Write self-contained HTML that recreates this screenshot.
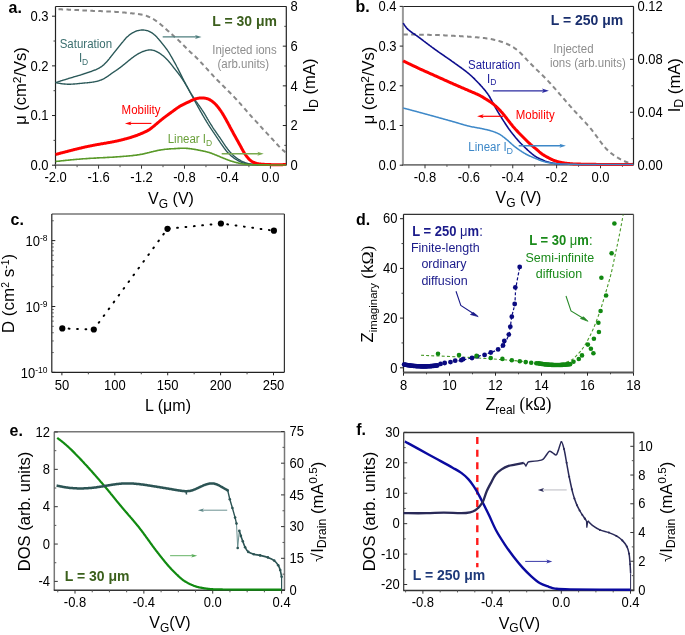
<!DOCTYPE html>
<html><head><meta charset="utf-8"><style>
html,body{margin:0;padding:0;background:#fff;}
svg{display:block;font-family:"Liberation Sans", sans-serif;will-change:transform;}
</style></head><body>
<svg width="685" height="635" viewBox="0 0 685 635">
<rect width="685" height="635" fill="#fff"/>
<line x1="55.50" y1="6.50" x2="286.30" y2="6.50" stroke="#222" stroke-width="1.2"/>
<line x1="55.50" y1="6.50" x2="55.50" y2="165.20" stroke="#222" stroke-width="1.2"/>
<line x1="286.30" y1="6.50" x2="286.30" y2="165.20" stroke="#222" stroke-width="1.2"/>
<line x1="54.50" y1="165.20" x2="286.30" y2="165.20" stroke="#777" stroke-width="1.8"/>
<line x1="55.60" y1="165.20" x2="55.60" y2="168.70" stroke="#333" stroke-width="1"/>
<line x1="98.56" y1="165.20" x2="98.56" y2="168.70" stroke="#333" stroke-width="1"/>
<line x1="141.52" y1="165.20" x2="141.52" y2="168.70" stroke="#333" stroke-width="1"/>
<line x1="184.48" y1="165.20" x2="184.48" y2="168.70" stroke="#333" stroke-width="1"/>
<line x1="227.44" y1="165.20" x2="227.44" y2="168.70" stroke="#333" stroke-width="1"/>
<line x1="270.40" y1="165.20" x2="270.40" y2="168.70" stroke="#333" stroke-width="1"/>
<line x1="77.08" y1="165.20" x2="77.08" y2="167.20" stroke="#555" stroke-width="1"/>
<line x1="120.04" y1="165.20" x2="120.04" y2="167.20" stroke="#555" stroke-width="1"/>
<line x1="163.00" y1="165.20" x2="163.00" y2="167.20" stroke="#555" stroke-width="1"/>
<line x1="205.96" y1="165.20" x2="205.96" y2="167.20" stroke="#555" stroke-width="1"/>
<line x1="248.92" y1="165.20" x2="248.92" y2="167.20" stroke="#555" stroke-width="1"/>
<line x1="55.50" y1="165.20" x2="52.00" y2="165.20" stroke="#222" stroke-width="1"/>
<line x1="55.50" y1="115.53" x2="52.00" y2="115.53" stroke="#222" stroke-width="1"/>
<line x1="55.50" y1="65.87" x2="52.00" y2="65.87" stroke="#222" stroke-width="1"/>
<line x1="55.50" y1="16.20" x2="52.00" y2="16.20" stroke="#222" stroke-width="1"/>
<line x1="55.50" y1="140.37" x2="53.50" y2="140.37" stroke="#444" stroke-width="1"/>
<line x1="55.50" y1="90.70" x2="53.50" y2="90.70" stroke="#444" stroke-width="1"/>
<line x1="55.50" y1="41.03" x2="53.50" y2="41.03" stroke="#444" stroke-width="1"/>
<line x1="286.30" y1="165.20" x2="282.80" y2="165.20" stroke="#222" stroke-width="1"/>
<line x1="286.30" y1="125.52" x2="282.80" y2="125.52" stroke="#222" stroke-width="1"/>
<line x1="286.30" y1="85.85" x2="282.80" y2="85.85" stroke="#222" stroke-width="1"/>
<line x1="286.30" y1="46.17" x2="282.80" y2="46.17" stroke="#222" stroke-width="1"/>
<line x1="286.30" y1="6.50" x2="282.80" y2="6.50" stroke="#222" stroke-width="1"/>
<line x1="286.30" y1="145.36" x2="284.30" y2="145.36" stroke="#444" stroke-width="1"/>
<line x1="286.30" y1="105.69" x2="284.30" y2="105.69" stroke="#444" stroke-width="1"/>
<line x1="286.30" y1="66.01" x2="284.30" y2="66.01" stroke="#444" stroke-width="1"/>
<line x1="286.30" y1="26.34" x2="284.30" y2="26.34" stroke="#444" stroke-width="1"/>
<text x="0" y="0" font-size="13" text-anchor="middle" fill="#000" transform="translate(55.60 181.50) scale(1 1.08)">-2.0</text>
<text x="0" y="0" font-size="13" text-anchor="middle" fill="#000" transform="translate(98.56 181.50) scale(1 1.08)">-1.6</text>
<text x="0" y="0" font-size="13" text-anchor="middle" fill="#000" transform="translate(141.52 181.50) scale(1 1.08)">-1.2</text>
<text x="0" y="0" font-size="13" text-anchor="middle" fill="#000" transform="translate(184.48 181.50) scale(1 1.08)">-0.8</text>
<text x="0" y="0" font-size="13" text-anchor="middle" fill="#000" transform="translate(227.44 181.50) scale(1 1.08)">-0.4</text>
<text x="0" y="0" font-size="13" text-anchor="middle" fill="#000" transform="translate(270.40 181.50) scale(1 1.08)">0.0</text>
<text x="0" y="0" font-size="13" text-anchor="end" fill="#000" transform="translate(48.50 169.90) scale(1 1.08)">0.0</text>
<text x="0" y="0" font-size="13" text-anchor="end" fill="#000" transform="translate(48.50 120.23) scale(1 1.08)">0.1</text>
<text x="0" y="0" font-size="13" text-anchor="end" fill="#000" transform="translate(48.50 70.57) scale(1 1.08)">0.2</text>
<text x="0" y="0" font-size="13" text-anchor="end" fill="#000" transform="translate(48.50 20.90) scale(1 1.08)">0.3</text>
<text x="0" y="0" font-size="13" text-anchor="start" fill="#000" transform="translate(290.50 169.90) scale(1 1.08)">0</text>
<text x="0" y="0" font-size="13" text-anchor="start" fill="#000" transform="translate(290.50 130.22) scale(1 1.08)">2</text>
<text x="0" y="0" font-size="13" text-anchor="start" fill="#000" transform="translate(290.50 90.55) scale(1 1.08)">4</text>
<text x="0" y="0" font-size="13" text-anchor="start" fill="#000" transform="translate(290.50 50.88) scale(1 1.08)">6</text>
<text x="0" y="0" font-size="13" text-anchor="start" fill="#000" transform="translate(290.50 11.20) scale(1 1.08)">8</text>
<text x="0" y="0" font-size="16" text-anchor="middle" fill="#000" transform="translate(171.00 203.50) scale(1 1.08)">V<tspan font-size="12" dy="4">G</tspan><tspan dy="-4"> (V)</tspan></text>
<text x="0" y="0" font-size="16" text-anchor="middle" fill="#000" transform="translate(26.20 86.00) rotate(-90) scale(1.035 1)">μ (cm<tspan font-size="11.5" dy="-5.5">2</tspan><tspan dy="5.5">/Vs)</tspan></text>
<text x="0" y="0" font-size="16" text-anchor="middle" fill="#000" transform="translate(315.00 85.60) rotate(-90) scale(1.035 1)">I<tspan font-size="12" dy="3">D</tspan><tspan dy="-3"> (mA)</tspan></text>
<text x="0" y="0" font-size="16" text-anchor="start" fill="#000" font-weight="bold" transform="translate(8.60 12.60) scale(1 1.08)">a.</text>
<line x1="402.90" y1="6.50" x2="633.50" y2="6.50" stroke="#222" stroke-width="1.2"/>
<line x1="633.50" y1="6.50" x2="633.50" y2="164.80" stroke="#222" stroke-width="1.2"/>
<line x1="402.90" y1="6.50" x2="402.90" y2="164.80" stroke="#999" stroke-width="2"/>
<line x1="401.90" y1="164.80" x2="633.50" y2="164.80" stroke="#777" stroke-width="1.8"/>
<line x1="425.00" y1="164.80" x2="425.00" y2="168.30" stroke="#333" stroke-width="1"/>
<line x1="468.88" y1="164.80" x2="468.88" y2="168.30" stroke="#333" stroke-width="1"/>
<line x1="512.75" y1="164.80" x2="512.75" y2="168.30" stroke="#333" stroke-width="1"/>
<line x1="556.62" y1="164.80" x2="556.62" y2="168.30" stroke="#333" stroke-width="1"/>
<line x1="600.50" y1="164.80" x2="600.50" y2="168.30" stroke="#333" stroke-width="1"/>
<line x1="446.94" y1="164.80" x2="446.94" y2="166.80" stroke="#555" stroke-width="1"/>
<line x1="490.81" y1="164.80" x2="490.81" y2="166.80" stroke="#555" stroke-width="1"/>
<line x1="534.69" y1="164.80" x2="534.69" y2="166.80" stroke="#555" stroke-width="1"/>
<line x1="578.56" y1="164.80" x2="578.56" y2="166.80" stroke="#555" stroke-width="1"/>
<line x1="622.44" y1="164.80" x2="622.44" y2="166.80" stroke="#555" stroke-width="1"/>
<line x1="402.90" y1="165.20" x2="399.70" y2="165.20" stroke="#222" stroke-width="1"/>
<line x1="402.90" y1="125.50" x2="399.70" y2="125.50" stroke="#222" stroke-width="1"/>
<line x1="402.90" y1="85.80" x2="399.70" y2="85.80" stroke="#222" stroke-width="1"/>
<line x1="402.90" y1="46.10" x2="399.70" y2="46.10" stroke="#222" stroke-width="1"/>
<line x1="402.90" y1="6.40" x2="399.70" y2="6.40" stroke="#222" stroke-width="1"/>
<line x1="633.50" y1="165.20" x2="630.00" y2="165.20" stroke="#222" stroke-width="1"/>
<line x1="633.50" y1="112.27" x2="630.00" y2="112.27" stroke="#222" stroke-width="1"/>
<line x1="633.50" y1="59.33" x2="630.00" y2="59.33" stroke="#222" stroke-width="1"/>
<line x1="633.50" y1="6.40" x2="630.00" y2="6.40" stroke="#222" stroke-width="1"/>
<line x1="633.50" y1="138.73" x2="631.50" y2="138.73" stroke="#444" stroke-width="1"/>
<line x1="633.50" y1="85.80" x2="631.50" y2="85.80" stroke="#444" stroke-width="1"/>
<line x1="633.50" y1="32.87" x2="631.50" y2="32.87" stroke="#444" stroke-width="1"/>
<text x="0" y="0" font-size="13" text-anchor="middle" fill="#000" transform="translate(425.00 181.70) scale(1 1.08)">-0.8</text>
<text x="0" y="0" font-size="13" text-anchor="middle" fill="#000" transform="translate(468.88 181.70) scale(1 1.08)">-0.6</text>
<text x="0" y="0" font-size="13" text-anchor="middle" fill="#000" transform="translate(512.75 181.70) scale(1 1.08)">-0.4</text>
<text x="0" y="0" font-size="13" text-anchor="middle" fill="#000" transform="translate(556.62 181.70) scale(1 1.08)">-0.2</text>
<text x="0" y="0" font-size="13" text-anchor="middle" fill="#000" transform="translate(600.50 181.70) scale(1 1.08)">0.0</text>
<text x="0" y="0" font-size="13" text-anchor="end" fill="#000" transform="translate(396.50 169.90) scale(1 1.08)">0.0</text>
<text x="0" y="0" font-size="13" text-anchor="end" fill="#000" transform="translate(396.50 130.20) scale(1 1.08)">0.1</text>
<text x="0" y="0" font-size="13" text-anchor="end" fill="#000" transform="translate(396.50 90.50) scale(1 1.08)">0.2</text>
<text x="0" y="0" font-size="13" text-anchor="end" fill="#000" transform="translate(396.50 50.80) scale(1 1.08)">0.3</text>
<text x="0" y="0" font-size="13" text-anchor="end" fill="#000" transform="translate(396.50 11.10) scale(1 1.08)">0.4</text>
<text x="0" y="0" font-size="13" text-anchor="start" fill="#000" transform="translate(637.50 169.90) scale(1 1.08)">0.00</text>
<text x="0" y="0" font-size="13" text-anchor="start" fill="#000" transform="translate(637.50 116.97) scale(1 1.08)">0.04</text>
<text x="0" y="0" font-size="13" text-anchor="start" fill="#000" transform="translate(637.50 64.03) scale(1 1.08)">0.08</text>
<text x="0" y="0" font-size="13" text-anchor="start" fill="#000" transform="translate(637.50 11.10) scale(1 1.08)">0.12</text>
<text x="0" y="0" font-size="16" text-anchor="middle" fill="#000" transform="translate(518.50 203.00) scale(1 1.08)">V<tspan font-size="12" dy="4">G</tspan><tspan dy="-4"> (V)</tspan></text>
<text x="0" y="0" font-size="16" text-anchor="middle" fill="#000" transform="translate(374.20 85.50) rotate(-90) scale(1.035 1)">μ (cm<tspan font-size="11.5" dy="-5.5">2</tspan><tspan dy="5.5">/Vs)</tspan></text>
<text x="0" y="0" font-size="16" text-anchor="middle" fill="#000" transform="translate(680.00 85.30) rotate(-90) scale(1.035 1)">I<tspan font-size="12" dy="3">D</tspan><tspan dy="-3"> (mA)</tspan></text>
<text x="0" y="0" font-size="16" text-anchor="start" fill="#000" font-weight="bold" transform="translate(355.50 12.00) scale(1 1.08)">b.</text>
<line x1="51.80" y1="214.00" x2="284.40" y2="214.00" stroke="#333" stroke-width="1.2"/>
<line x1="51.80" y1="214.00" x2="51.80" y2="372.30" stroke="#222" stroke-width="1.2"/>
<line x1="284.40" y1="214.00" x2="284.40" y2="372.30" stroke="#333" stroke-width="1.2"/>
<line x1="51.80" y1="372.30" x2="284.40" y2="372.30" stroke="#222" stroke-width="1.2"/>
<line x1="61.90" y1="372.30" x2="61.90" y2="375.30" stroke="#222" stroke-width="1"/>
<line x1="114.80" y1="372.30" x2="114.80" y2="375.30" stroke="#222" stroke-width="1"/>
<line x1="167.70" y1="372.30" x2="167.70" y2="375.30" stroke="#222" stroke-width="1"/>
<line x1="220.60" y1="372.30" x2="220.60" y2="375.30" stroke="#222" stroke-width="1"/>
<line x1="273.50" y1="372.30" x2="273.50" y2="375.30" stroke="#222" stroke-width="1"/>
<line x1="88.35" y1="372.30" x2="88.35" y2="374.30" stroke="#444" stroke-width="1"/>
<line x1="141.25" y1="372.30" x2="141.25" y2="374.30" stroke="#444" stroke-width="1"/>
<line x1="194.15" y1="372.30" x2="194.15" y2="374.30" stroke="#444" stroke-width="1"/>
<line x1="247.05" y1="372.30" x2="247.05" y2="374.30" stroke="#444" stroke-width="1"/>
<line x1="51.80" y1="372.40" x2="55.30" y2="372.40" stroke="#222" stroke-width="1"/>
<line x1="51.80" y1="306.50" x2="55.30" y2="306.50" stroke="#222" stroke-width="1"/>
<line x1="51.80" y1="240.60" x2="55.30" y2="240.60" stroke="#222" stroke-width="1"/>
<line x1="51.80" y1="352.56" x2="53.80" y2="352.56" stroke="#444" stroke-width="0.8"/>
<line x1="51.80" y1="340.96" x2="53.80" y2="340.96" stroke="#444" stroke-width="0.8"/>
<line x1="51.80" y1="332.72" x2="53.80" y2="332.72" stroke="#444" stroke-width="0.8"/>
<line x1="51.80" y1="326.34" x2="53.80" y2="326.34" stroke="#444" stroke-width="0.8"/>
<line x1="51.80" y1="321.12" x2="53.80" y2="321.12" stroke="#444" stroke-width="0.8"/>
<line x1="51.80" y1="316.71" x2="53.80" y2="316.71" stroke="#444" stroke-width="0.8"/>
<line x1="51.80" y1="312.89" x2="53.80" y2="312.89" stroke="#444" stroke-width="0.8"/>
<line x1="51.80" y1="309.52" x2="53.80" y2="309.52" stroke="#444" stroke-width="0.8"/>
<line x1="51.80" y1="286.66" x2="53.80" y2="286.66" stroke="#444" stroke-width="0.8"/>
<line x1="51.80" y1="275.06" x2="53.80" y2="275.06" stroke="#444" stroke-width="0.8"/>
<line x1="51.80" y1="266.82" x2="53.80" y2="266.82" stroke="#444" stroke-width="0.8"/>
<line x1="51.80" y1="260.44" x2="53.80" y2="260.44" stroke="#444" stroke-width="0.8"/>
<line x1="51.80" y1="255.22" x2="53.80" y2="255.22" stroke="#444" stroke-width="0.8"/>
<line x1="51.80" y1="250.81" x2="53.80" y2="250.81" stroke="#444" stroke-width="0.8"/>
<line x1="51.80" y1="246.99" x2="53.80" y2="246.99" stroke="#444" stroke-width="0.8"/>
<line x1="51.80" y1="243.62" x2="53.80" y2="243.62" stroke="#444" stroke-width="0.8"/>
<line x1="51.80" y1="220.76" x2="53.80" y2="220.76" stroke="#444" stroke-width="0.8"/>
<text x="0" y="0" font-size="13" text-anchor="middle" fill="#000" transform="translate(61.90 389.90) scale(1 1.08)">50</text>
<text x="0" y="0" font-size="13" text-anchor="middle" fill="#000" transform="translate(114.80 389.90) scale(1 1.08)">100</text>
<text x="0" y="0" font-size="13" text-anchor="middle" fill="#000" transform="translate(167.70 389.90) scale(1 1.08)">150</text>
<text x="0" y="0" font-size="13" text-anchor="middle" fill="#000" transform="translate(220.60 389.90) scale(1 1.08)">200</text>
<text x="0" y="0" font-size="13" text-anchor="middle" fill="#000" transform="translate(273.50 389.90) scale(1 1.08)">250</text>
<text x="0" y="0" font-size="13" text-anchor="end" fill="#000" transform="translate(47.50 246.10) scale(1 1.08)">10<tspan font-size="8.5" dy="-4.8">-8</tspan></text>
<text x="0" y="0" font-size="13" text-anchor="end" fill="#000" transform="translate(47.50 312.00) scale(1 1.08)">10<tspan font-size="8.5" dy="-4.8">-9</tspan></text>
<text x="0" y="0" font-size="13" text-anchor="end" fill="#000" transform="translate(47.50 377.80) scale(1 1.08)">10<tspan font-size="8.5" dy="-4.8">-10</tspan></text>
<text x="0" y="0" font-size="16" text-anchor="middle" fill="#000" transform="translate(168.00 410.70) scale(1 1.08)">L (μm)</text>
<text x="0" y="0" font-size="16.5" text-anchor="middle" fill="#000" transform="translate(13.80 293.60) rotate(-90) scale(1.035 1)">D (cm<tspan font-size="10" dy="-5">2</tspan><tspan dy="5"> s</tspan><tspan font-size="10" dy="-5">-1</tspan><tspan dy="5">)</tspan></text>
<text x="0" y="0" font-size="16" text-anchor="start" fill="#000" font-weight="bold" transform="translate(10.50 225.10) scale(1 1.08)">c.</text>
<path d="M62.3,328.4 L93.8,329.5 L167.5,228.8 L220.9,223.5 L273.9,230.7" fill="none" stroke="#000" stroke-width="2.0" stroke-dasharray="0.8 7.6" stroke-linecap="round" stroke-dashoffset="2"/>
<circle cx="62.30" cy="328.40" r="3.1" fill="#000"/>
<circle cx="93.80" cy="329.50" r="3.1" fill="#000"/>
<circle cx="167.50" cy="228.80" r="3.1" fill="#000"/>
<circle cx="220.90" cy="223.50" r="3.1" fill="#000"/>
<circle cx="273.90" cy="230.70" r="3.1" fill="#000"/>
<line x1="403.50" y1="214.30" x2="633.50" y2="214.30" stroke="#333" stroke-width="1.2"/>
<line x1="403.50" y1="214.30" x2="403.50" y2="372.50" stroke="#222" stroke-width="1.2"/>
<line x1="633.50" y1="214.30" x2="633.50" y2="372.50" stroke="#555" stroke-width="1.2"/>
<line x1="403.50" y1="372.50" x2="633.50" y2="372.50" stroke="#555" stroke-width="1.8"/>
<line x1="403.50" y1="372.50" x2="403.50" y2="375.70" stroke="#222" stroke-width="1"/>
<line x1="449.50" y1="372.50" x2="449.50" y2="375.70" stroke="#222" stroke-width="1"/>
<line x1="495.50" y1="372.50" x2="495.50" y2="375.70" stroke="#222" stroke-width="1"/>
<line x1="541.50" y1="372.50" x2="541.50" y2="375.70" stroke="#222" stroke-width="1"/>
<line x1="587.50" y1="372.50" x2="587.50" y2="375.70" stroke="#222" stroke-width="1"/>
<line x1="633.50" y1="372.50" x2="633.50" y2="375.70" stroke="#222" stroke-width="1"/>
<line x1="426.50" y1="372.50" x2="426.50" y2="374.30" stroke="#444" stroke-width="1"/>
<line x1="472.50" y1="372.50" x2="472.50" y2="374.30" stroke="#444" stroke-width="1"/>
<line x1="518.50" y1="372.50" x2="518.50" y2="374.30" stroke="#444" stroke-width="1"/>
<line x1="564.50" y1="372.50" x2="564.50" y2="374.30" stroke="#444" stroke-width="1"/>
<line x1="610.50" y1="372.50" x2="610.50" y2="374.30" stroke="#444" stroke-width="1"/>
<line x1="403.50" y1="367.80" x2="400.00" y2="367.80" stroke="#222" stroke-width="1"/>
<line x1="403.50" y1="318.10" x2="400.00" y2="318.10" stroke="#222" stroke-width="1"/>
<line x1="403.50" y1="268.40" x2="400.00" y2="268.40" stroke="#222" stroke-width="1"/>
<line x1="403.50" y1="218.70" x2="400.00" y2="218.70" stroke="#222" stroke-width="1"/>
<line x1="403.50" y1="342.95" x2="401.50" y2="342.95" stroke="#444" stroke-width="1"/>
<line x1="403.50" y1="293.25" x2="401.50" y2="293.25" stroke="#444" stroke-width="1"/>
<line x1="403.50" y1="243.55" x2="401.50" y2="243.55" stroke="#444" stroke-width="1"/>
<text x="0" y="0" font-size="13" text-anchor="middle" fill="#000" transform="translate(403.50 389.60) scale(1 1.08)">8</text>
<text x="0" y="0" font-size="13" text-anchor="middle" fill="#000" transform="translate(449.50 389.60) scale(1 1.08)">10</text>
<text x="0" y="0" font-size="13" text-anchor="middle" fill="#000" transform="translate(495.50 389.60) scale(1 1.08)">12</text>
<text x="0" y="0" font-size="13" text-anchor="middle" fill="#000" transform="translate(541.50 389.60) scale(1 1.08)">14</text>
<text x="0" y="0" font-size="13" text-anchor="middle" fill="#000" transform="translate(587.50 389.60) scale(1 1.08)">16</text>
<text x="0" y="0" font-size="13" text-anchor="middle" fill="#000" transform="translate(633.50 389.60) scale(1 1.08)">18</text>
<text x="0" y="0" font-size="13" text-anchor="end" fill="#000" transform="translate(397.50 372.50) scale(1 1.08)">0</text>
<text x="0" y="0" font-size="13" text-anchor="end" fill="#000" transform="translate(397.50 322.80) scale(1 1.08)">20</text>
<text x="0" y="0" font-size="13" text-anchor="end" fill="#000" transform="translate(397.50 273.10) scale(1 1.08)">40</text>
<text x="0" y="0" font-size="13" text-anchor="end" fill="#000" transform="translate(397.50 223.40) scale(1 1.08)">60</text>
<text x="0" y="0" font-size="16" text-anchor="middle" fill="#000" transform="translate(518.50 410.00) scale(1 1.08)">Z<tspan font-size="12" dy="3.5">real</tspan><tspan dy="-3.5" font-family="Liberation Serif" font-size="17"> (</tspan><tspan>k</tspan><tspan font-family="Liberation Serif" font-size="17">Ω)</tspan></text>
<text x="0" y="0" font-size="16" text-anchor="middle" fill="#000" transform="translate(373.10 294.00) rotate(-90) scale(1.035 1)">Z<tspan font-size="11" dy="4">imaginary</tspan><tspan dy="-4" font-family="Liberation Serif" font-size="17"> (</tspan><tspan>k</tspan><tspan font-family="Liberation Serif" font-size="17">Ω)</tspan></text>
<text x="0" y="0" font-size="16" text-anchor="start" fill="#000" font-weight="bold" transform="translate(356.00 225.30) scale(1 1.08)">d.</text>
<text x="0" y="0" font-size="13" text-anchor="start" fill="#1a1a8a" font-weight="bold" transform="translate(412.30 235.50) scale(1 1.08)">L = 250 <tspan font-weight="normal">μ</tspan>m<tspan font-weight="normal">:</tspan></text>
<text x="0" y="0" font-size="12.5" text-anchor="start" fill="#1a1a8a" transform="translate(410.90 252.10) scale(1 1.08)">Finite-length</text>
<text x="0" y="0" font-size="12.5" text-anchor="start" fill="#1a1a8a" transform="translate(421.40 268.40) scale(1 1.08)">ordinary</text>
<text x="0" y="0" font-size="12.5" text-anchor="start" fill="#1a1a8a" transform="translate(421.40 285.00) scale(1 1.08)">diffusion</text>
<text x="0" y="0" font-size="13" text-anchor="start" fill="#1a8a1a" font-weight="bold" transform="translate(529.30 244.90) scale(1 1.08)">L = 30 <tspan font-weight="normal">μ</tspan>m<tspan font-weight="normal">:</tspan></text>
<text x="0" y="0" font-size="12.5" text-anchor="start" fill="#1a8a1a" transform="translate(525.50 261.80) scale(1 1.08)">Semi-infinite</text>
<text x="0" y="0" font-size="12.5" text-anchor="start" fill="#1a8a1a" transform="translate(535.80 278.00) scale(1 1.08)">diffusion</text>
<line x1="54.30" y1="431.70" x2="284.50" y2="431.70" stroke="#777" stroke-width="1.5"/>
<line x1="54.30" y1="431.70" x2="54.30" y2="590.30" stroke="#777" stroke-width="1.5"/>
<line x1="284.50" y1="431.70" x2="284.50" y2="590.30" stroke="#777" stroke-width="1.5"/>
<line x1="53.80" y1="590.30" x2="285.00" y2="590.30" stroke="#333" stroke-width="1.5"/>
<line x1="75.00" y1="590.30" x2="75.00" y2="593.60" stroke="#333" stroke-width="1"/>
<line x1="143.87" y1="590.30" x2="143.87" y2="593.60" stroke="#333" stroke-width="1"/>
<line x1="212.73" y1="590.30" x2="212.73" y2="593.60" stroke="#333" stroke-width="1"/>
<line x1="281.60" y1="590.30" x2="281.60" y2="593.60" stroke="#333" stroke-width="1"/>
<line x1="57.78" y1="590.30" x2="57.78" y2="592.30" stroke="#555" stroke-width="1"/>
<line x1="92.22" y1="590.30" x2="92.22" y2="592.30" stroke="#555" stroke-width="1"/>
<line x1="109.43" y1="590.30" x2="109.43" y2="592.30" stroke="#555" stroke-width="1"/>
<line x1="126.65" y1="590.30" x2="126.65" y2="592.30" stroke="#555" stroke-width="1"/>
<line x1="161.08" y1="590.30" x2="161.08" y2="592.30" stroke="#555" stroke-width="1"/>
<line x1="178.30" y1="590.30" x2="178.30" y2="592.30" stroke="#555" stroke-width="1"/>
<line x1="195.52" y1="590.30" x2="195.52" y2="592.30" stroke="#555" stroke-width="1"/>
<line x1="229.95" y1="590.30" x2="229.95" y2="592.30" stroke="#555" stroke-width="1"/>
<line x1="247.17" y1="590.30" x2="247.17" y2="592.30" stroke="#555" stroke-width="1"/>
<line x1="264.38" y1="590.30" x2="264.38" y2="592.30" stroke="#555" stroke-width="1"/>
<line x1="54.30" y1="432.00" x2="57.80" y2="432.00" stroke="#333" stroke-width="1"/>
<line x1="54.30" y1="469.35" x2="57.80" y2="469.35" stroke="#333" stroke-width="1"/>
<line x1="54.30" y1="506.70" x2="57.80" y2="506.70" stroke="#333" stroke-width="1"/>
<line x1="54.30" y1="544.05" x2="57.80" y2="544.05" stroke="#333" stroke-width="1"/>
<line x1="54.30" y1="581.40" x2="57.80" y2="581.40" stroke="#333" stroke-width="1"/>
<line x1="54.30" y1="450.68" x2="56.30" y2="450.68" stroke="#555" stroke-width="1"/>
<line x1="54.30" y1="488.02" x2="56.30" y2="488.02" stroke="#555" stroke-width="1"/>
<line x1="54.30" y1="525.38" x2="56.30" y2="525.38" stroke="#555" stroke-width="1"/>
<line x1="54.30" y1="562.72" x2="56.30" y2="562.72" stroke="#555" stroke-width="1"/>
<line x1="284.50" y1="431.50" x2="281.00" y2="431.50" stroke="#333" stroke-width="1"/>
<line x1="284.50" y1="463.20" x2="281.00" y2="463.20" stroke="#333" stroke-width="1"/>
<line x1="284.50" y1="494.90" x2="281.00" y2="494.90" stroke="#333" stroke-width="1"/>
<line x1="284.50" y1="526.60" x2="281.00" y2="526.60" stroke="#333" stroke-width="1"/>
<line x1="284.50" y1="558.30" x2="281.00" y2="558.30" stroke="#333" stroke-width="1"/>
<line x1="284.50" y1="590.00" x2="281.00" y2="590.00" stroke="#333" stroke-width="1"/>
<line x1="284.50" y1="447.35" x2="282.50" y2="447.35" stroke="#555" stroke-width="1"/>
<line x1="284.50" y1="479.05" x2="282.50" y2="479.05" stroke="#555" stroke-width="1"/>
<line x1="284.50" y1="510.75" x2="282.50" y2="510.75" stroke="#555" stroke-width="1"/>
<line x1="284.50" y1="542.45" x2="282.50" y2="542.45" stroke="#555" stroke-width="1"/>
<line x1="284.50" y1="574.15" x2="282.50" y2="574.15" stroke="#555" stroke-width="1"/>
<text x="0" y="0" font-size="13" text-anchor="middle" fill="#000" transform="translate(75.00 606.70) scale(1 1.08)">-0.8</text>
<text x="0" y="0" font-size="13" text-anchor="middle" fill="#000" transform="translate(143.87 606.70) scale(1 1.08)">-0.4</text>
<text x="0" y="0" font-size="13" text-anchor="middle" fill="#000" transform="translate(212.73 606.70) scale(1 1.08)">0.0</text>
<text x="0" y="0" font-size="13" text-anchor="middle" fill="#000" transform="translate(281.60 606.70) scale(1 1.08)">0.4</text>
<text x="0" y="0" font-size="13" text-anchor="end" fill="#000" transform="translate(50.00 436.70) scale(1 1.08)">12</text>
<text x="0" y="0" font-size="13" text-anchor="end" fill="#000" transform="translate(50.00 474.05) scale(1 1.08)">8</text>
<text x="0" y="0" font-size="13" text-anchor="end" fill="#000" transform="translate(50.00 511.40) scale(1 1.08)">4</text>
<text x="0" y="0" font-size="13" text-anchor="end" fill="#000" transform="translate(50.00 548.75) scale(1 1.08)">0</text>
<text x="0" y="0" font-size="13" text-anchor="end" fill="#000" transform="translate(50.00 586.10) scale(1 1.08)">-4</text>
<text x="0" y="0" font-size="13" text-anchor="start" fill="#000" transform="translate(289.60 436.20) scale(1 1.08)">75</text>
<text x="0" y="0" font-size="13" text-anchor="start" fill="#000" transform="translate(289.60 467.90) scale(1 1.08)">60</text>
<text x="0" y="0" font-size="13" text-anchor="start" fill="#000" transform="translate(289.60 499.60) scale(1 1.08)">45</text>
<text x="0" y="0" font-size="13" text-anchor="start" fill="#000" transform="translate(289.60 531.30) scale(1 1.08)">30</text>
<text x="0" y="0" font-size="13" text-anchor="start" fill="#000" transform="translate(289.60 563.00) scale(1 1.08)">15</text>
<text x="0" y="0" font-size="13" text-anchor="start" fill="#000" transform="translate(289.60 594.70) scale(1 1.08)">0</text>
<text x="0" y="0" font-size="16" text-anchor="middle" fill="#000" transform="translate(170.00 628.40) scale(1 1.08)">V<tspan font-size="12" dy="3">G</tspan><tspan dy="-3">(V)</tspan></text>
<text x="0" y="0" font-size="16" text-anchor="middle" fill="#000" transform="translate(30.00 511.50) rotate(-90) scale(1.035 1)">DOS (arb. units)</text>
<text x="0" y="0" font-size="16" text-anchor="middle" fill="#000" transform="translate(322.80 511.80) rotate(-90) scale(1.035 1)">√I<tspan font-size="12" dy="3">Drain</tspan><tspan dy="-3"> (mA</tspan><tspan font-size="11.5" dy="-6">0.5</tspan><tspan dy="6">)</tspan></text>
<text x="0" y="0" font-size="16" text-anchor="start" fill="#000" font-weight="bold" transform="translate(9.60 435.70) scale(1 1.08)">e.</text>
<text x="0" y="0" font-size="14" text-anchor="start" fill="#3b601c" font-weight="bold" transform="translate(64.80 580.80) scale(1 1.08)">L = 30 μm</text>
<path d="M57.2,437.9 L57.7,438.3 L58.2,438.6 L58.7,439.0 L59.2,439.4 L59.7,439.8 L60.2,440.1 L60.7,440.5 L61.2,440.9 L61.7,441.3 L62.2,441.7 L62.7,442.1 L63.2,442.5 L63.7,442.9 L64.2,443.3 L64.7,443.8 L65.2,444.2 L65.7,444.6 L66.2,445.0 L66.7,445.5 L67.2,445.9 L67.7,446.4 L68.2,446.8 L68.7,447.3 L69.2,447.7 L69.7,448.2 L70.2,448.7 L70.7,449.2 L71.2,449.6 L71.7,450.1 L72.2,450.6 L72.7,451.1 L73.2,451.6 L73.7,452.1 L74.2,452.6 L74.7,453.1 L75.2,453.7 L75.7,454.2 L76.2,454.7 L76.7,455.2 L77.2,455.7 L77.7,456.3 L78.2,456.8 L78.7,457.3 L79.2,457.8 L79.7,458.3 L80.2,458.9 L80.7,459.4 L81.2,459.9 L81.7,460.4 L82.2,461.0 L82.7,461.5 L83.2,462.0 L83.7,462.6 L84.2,463.1 L84.7,463.7 L85.2,464.2 L85.7,464.7 L86.2,465.3 L86.7,465.8 L87.2,466.4 L87.7,466.9 L88.2,467.5 L88.7,468.0 L89.2,468.6 L89.7,469.1 L90.2,469.7 L90.7,470.3 L91.2,470.8 L91.7,471.4 L92.2,471.9 L92.7,472.5 L93.2,473.1 L93.7,473.6 L94.2,474.2 L94.7,474.8 L95.2,475.3 L95.7,475.9 L96.2,476.5 L96.7,477.0 L97.2,477.6 L97.7,478.2 L98.2,478.8 L98.7,479.3 L99.2,479.9 L99.7,480.5 L100.2,481.1 L100.7,481.7 L101.2,482.2 L101.7,482.8 L102.2,483.4 L102.7,484.0 L103.2,484.6 L103.7,485.2 L104.2,485.8 L104.7,486.4 L105.2,486.9 L105.7,487.5 L106.2,488.1 L106.7,488.7 L107.2,489.3 L107.7,489.9 L108.2,490.5 L108.7,491.1 L109.2,491.7 L109.7,492.3 L110.2,492.9 L110.7,493.6 L111.2,494.2 L111.7,494.8 L112.2,495.4 L112.7,496.0 L113.2,496.6 L113.7,497.3 L114.2,497.9 L114.7,498.5 L115.2,499.1 L115.7,499.7 L116.2,500.4 L116.7,501.0 L117.2,501.6 L117.7,502.2 L118.2,502.8 L118.7,503.4 L119.2,504.0 L119.7,504.6 L120.2,505.2 L120.7,505.8 L121.2,506.4 L121.7,507.0 L122.2,507.6 L122.7,508.2 L123.2,508.8 L123.7,509.4 L124.2,510.0 L124.7,510.5 L125.2,511.1 L125.7,511.7 L126.2,512.3 L126.7,512.9 L127.2,513.4 L127.7,514.0 L128.2,514.6 L128.7,515.2 L129.2,515.7 L129.7,516.3 L130.2,516.9 L130.7,517.5 L131.2,518.0 L131.7,518.6 L132.2,519.2 L132.7,519.8 L133.2,520.4 L133.7,521.0 L134.2,521.6 L134.7,522.2 L135.2,522.8 L135.7,523.4 L136.2,524.0 L136.7,524.6 L137.2,525.2 L137.7,525.8 L138.2,526.4 L138.7,527.0 L139.2,527.7 L139.7,528.3 L140.2,529.0 L140.7,529.6 L141.2,530.3 L141.7,530.9 L142.2,531.6 L142.7,532.3 L143.2,532.9 L143.7,533.6 L144.2,534.3 L144.7,535.0 L145.2,535.7 L145.7,536.4 L146.2,537.1 L146.7,537.8 L147.2,538.4 L147.7,539.1 L148.2,539.8 L148.7,540.5 L149.2,541.2 L149.7,541.9 L150.2,542.6 L150.7,543.3 L151.2,544.0 L151.7,544.7 L152.2,545.4 L152.7,546.1 L153.2,546.8 L153.7,547.4 L154.2,548.1 L154.7,548.8 L155.2,549.4 L155.7,550.1 L156.2,550.8 L156.7,551.4 L157.2,552.0 L157.7,552.7 L158.2,553.3 L158.7,553.9 L159.2,554.6 L159.7,555.2 L160.2,555.8 L160.7,556.5 L161.2,557.1 L161.7,557.7 L162.2,558.4 L162.7,559.0 L163.2,559.6 L163.7,560.2 L164.2,560.8 L164.7,561.5 L165.2,562.1 L165.7,562.7 L166.2,563.3 L166.7,563.9 L167.2,564.5 L167.7,565.1 L168.2,565.6 L168.7,566.2 L169.2,566.8 L169.7,567.3 L170.2,567.9 L170.7,568.4 L171.2,569.0 L171.7,569.5 L172.2,570.0 L172.7,570.5 L173.2,571.0 L173.7,571.5 L174.2,572.0 L174.7,572.5 L175.2,573.0 L175.7,573.5 L176.2,574.0 L176.7,574.5 L177.2,574.9 L177.7,575.4 L178.2,575.9 L178.7,576.4 L179.2,576.8 L179.7,577.3 L180.2,577.7 L180.7,578.2 L181.2,578.6 L181.7,579.0 L182.2,579.4 L182.7,579.8 L183.2,580.2 L183.7,580.5 L184.2,580.9 L184.7,581.2 L185.2,581.5 L185.7,581.8 L186.2,582.1 L186.7,582.4 L187.2,582.6 L187.7,582.9 L188.2,583.2 L188.7,583.4 L189.2,583.7 L189.7,583.9 L190.2,584.2 L190.7,584.4 L191.2,584.6 L191.7,584.9 L192.2,585.1 L192.7,585.3 L193.2,585.5 L193.7,585.7 L194.2,585.9 L194.7,586.1 L195.2,586.3 L195.7,586.4 L196.2,586.6 L196.7,586.7 L197.2,586.9 L197.7,587.0 L198.2,587.1 L198.7,587.3 L199.2,587.4 L199.7,587.5 L200.2,587.6 L200.7,587.6 L201.2,587.7 L201.7,587.8 L202.2,587.9 L202.7,588.0 L203.2,588.1 L203.7,588.2 L204.2,588.3 L204.7,588.3 L205.2,588.4 L205.7,588.5 L206.2,588.6 L206.7,588.6 L207.2,588.7 L207.7,588.8 L208.2,588.8 L208.7,588.9 L209.2,588.9 L209.7,589.0 L210.2,589.0 L210.7,589.1 L211.2,589.1 L211.7,589.2 L212.2,589.2 L212.7,589.2 L213.2,589.3 L213.7,589.3 L214.2,589.3 L214.7,589.3 L215.2,589.3 L215.7,589.3 L216.2,589.3 L216.7,589.3 L217.2,589.4 L217.7,589.4 L218.2,589.4 L218.7,589.4 L219.2,589.4 L219.7,589.4 L220.2,589.4 L220.7,589.4 L221.2,589.4 L221.7,589.4 L222.2,589.4 L222.7,589.5 L223.2,589.5 L223.7,589.5 L224.2,589.5 L224.7,589.5 L225.2,589.5 L225.7,589.5 L226.2,589.5 L226.7,589.5 L227.2,589.5 L227.7,589.5 L228.2,589.5 L228.7,589.5 L229.2,589.5 L229.7,589.5 L230.2,589.5 L230.7,589.5 L231.2,589.5 L231.7,589.6 L232.2,589.6 L232.7,589.6 L233.2,589.6 L233.7,589.6 L234.2,589.6 L234.7,589.6 L235.2,589.6 L235.7,589.6 L236.2,589.6 L236.7,589.6 L237.2,589.6 L237.7,589.6 L238.2,589.6 L238.7,589.6 L239.2,589.6 L239.7,589.6 L240.2,589.6 L240.7,589.6 L241.2,589.6 L241.7,589.6 L242.2,589.6 L242.7,589.6 L243.2,589.6 L243.7,589.6 L244.2,589.6 L244.7,589.6 L245.2,589.6 L245.7,589.6 L246.2,589.6 L246.7,589.6 L247.2,589.6 L247.7,589.6 L248.2,589.6 L248.7,589.6 L249.2,589.6 L249.7,589.6 L250.2,589.6 L250.7,589.6 L251.2,589.6 L251.7,589.6 L252.2,589.6 L252.7,589.6 L253.2,589.6 L253.7,589.7 L254.2,589.7 L254.7,589.7 L255.2,589.7 L255.7,589.7 L256.2,589.7 L256.7,589.7 L257.2,589.7 L257.7,589.7 L258.2,589.7 L258.7,589.7 L259.2,589.7 L259.7,589.7 L260.2,589.7 L260.7,589.7 L261.2,589.7 L261.7,589.7 L262.2,589.7 L262.7,589.7 L263.2,589.7 L263.7,589.7 L264.2,589.7 L264.7,589.7 L265.2,589.7 L265.7,589.7 L266.2,589.7 L266.7,589.7 L267.2,589.7 L267.7,589.7 L268.2,589.7 L268.7,589.7 L269.2,589.7 L269.7,589.7 L270.2,589.7 L270.7,589.7 L271.2,589.7 L271.7,589.7 L272.2,589.7 L272.7,589.7 L273.2,589.7 L273.7,589.7 L274.2,589.7 L274.7,589.7 L275.2,589.7 L275.7,589.7 L276.2,589.7 L276.7,589.7 L277.2,589.7 L277.7,589.7 L278.2,589.7 L278.7,589.7 L279.2,589.7 L279.7,589.7 L280.2,589.7 L280.7,589.7 L281.2,589.7 L281.6,589.7" fill="none" stroke="#118a11" stroke-width="2.2" stroke-linejoin="round"/>
<path d="M56.6,485.6 L57.1,485.7 L57.6,485.8 L58.1,485.9 L58.6,486.0 L59.1,486.1 L59.6,486.2 L60.1,486.3 L60.6,486.4 L61.1,486.5 L61.6,486.6 L62.1,486.7 L62.6,486.8 L63.1,486.9 L63.6,487.0 L64.1,487.1 L64.6,487.2 L65.1,487.3 L65.6,487.3 L66.1,487.4 L66.6,487.5 L67.1,487.6 L67.6,487.6 L68.1,487.7 L68.6,487.8 L69.1,487.8 L69.6,487.9 L70.1,487.9 L70.6,488.0 L71.1,488.0 L71.6,488.1 L72.1,488.1 L72.6,488.1 L73.1,488.2 L73.6,488.2 L74.1,488.2 L74.6,488.3 L75.1,488.3 L75.6,488.3 L76.1,488.3 L76.6,488.3 L77.1,488.4 L77.6,488.4 L78.1,488.4 L78.6,488.4 L79.1,488.4 L79.6,488.4 L80.1,488.4 L80.6,488.4 L81.1,488.4 L81.6,488.4 L82.1,488.4 L82.6,488.4 L83.1,488.4 L83.6,488.4 L84.1,488.3 L84.6,488.3 L85.1,488.3 L85.6,488.3 L86.1,488.3 L86.6,488.2 L87.1,488.2 L87.6,488.2 L88.1,488.2 L88.6,488.1 L89.1,488.1 L89.6,488.0 L90.1,488.0 L90.6,488.0 L91.1,487.9 L91.6,487.9 L92.1,487.8 L92.6,487.8 L93.1,487.7 L93.6,487.7 L94.1,487.6 L94.6,487.6 L95.1,487.5 L95.6,487.4 L96.1,487.4 L96.6,487.3 L97.1,487.2 L97.6,487.1 L98.1,487.1 L98.6,487.0 L99.1,486.9 L99.6,486.8 L100.1,486.8 L100.6,486.7 L101.1,486.6 L101.6,486.5 L102.1,486.4 L102.6,486.4 L103.1,486.3 L103.6,486.2 L104.1,486.1 L104.6,486.0 L105.1,485.9 L105.6,485.8 L106.1,485.8 L106.6,485.7 L107.1,485.6 L107.6,485.5 L108.1,485.4 L108.6,485.3 L109.1,485.2 L109.6,485.2 L110.1,485.1 L110.6,485.0 L111.1,484.9 L111.6,484.8 L112.1,484.8 L112.6,484.7 L113.1,484.6 L113.6,484.5 L114.1,484.5 L114.6,484.4 L115.1,484.3 L115.6,484.3 L116.1,484.2 L116.6,484.1 L117.1,484.1 L117.6,484.0 L118.1,483.9 L118.6,483.9 L119.1,483.8 L119.6,483.8 L120.1,483.7 L120.6,483.7 L121.1,483.7 L121.6,483.6 L122.1,483.6 L122.6,483.6 L123.1,483.5 L123.6,483.5 L124.1,483.5 L124.6,483.5 L125.1,483.4 L125.6,483.4 L126.1,483.4 L126.6,483.4 L127.1,483.4 L127.6,483.4 L128.1,483.4 L128.6,483.4 L129.1,483.4 L129.6,483.4 L130.1,483.5 L130.6,483.5 L131.1,483.5 L131.6,483.5 L132.1,483.5 L132.6,483.6 L133.1,483.6 L133.6,483.6 L134.1,483.7 L134.6,483.7 L135.1,483.7 L135.6,483.8 L136.1,483.8 L136.6,483.9 L137.1,483.9 L137.6,484.0 L138.1,484.0 L138.6,484.1 L139.1,484.1 L139.6,484.2 L140.1,484.2 L140.6,484.3 L141.1,484.4 L141.6,484.4 L142.1,484.5 L142.6,484.6 L143.1,484.6 L143.6,484.7 L144.1,484.8 L144.6,484.8 L145.1,484.9 L145.6,485.0 L146.1,485.1 L146.6,485.1 L147.1,485.2 L147.6,485.3 L148.1,485.4 L148.6,485.4 L149.1,485.5 L149.6,485.6 L150.1,485.7 L150.6,485.8 L151.1,485.8 L151.6,485.9 L152.1,486.0 L152.6,486.1 L153.1,486.2 L153.6,486.2 L154.1,486.3 L154.6,486.4 L155.1,486.5 L155.6,486.6 L156.1,486.6 L156.6,486.7 L157.1,486.8 L157.6,486.9 L158.1,487.0 L158.6,487.1 L159.1,487.1 L159.6,487.2 L160.1,487.3 L160.6,487.4 L161.1,487.5 L161.6,487.5 L162.1,487.6 L162.6,487.7 L163.1,487.8 L163.6,487.9 L164.1,487.9 L164.6,488.0 L165.1,488.1 L165.6,488.2 L166.1,488.3 L166.6,488.4 L167.1,488.4 L167.6,488.5 L168.1,488.6 L168.6,488.7 L169.1,488.8 L169.6,488.9 L170.1,489.0 L170.6,489.0 L171.1,489.1 L171.6,489.2 L172.1,489.3 L172.6,489.4 L173.1,489.5 L173.6,489.6 L174.1,489.7 L174.6,489.7 L175.1,489.8 L175.6,489.9 L176.1,490.0 L176.6,490.1 L177.1,490.2 L177.6,490.2 L178.1,490.3 L178.6,490.4 L179.1,490.5 L179.6,490.5 L180.1,490.6 L180.6,490.7 L181.1,490.8 L181.6,490.8 L182.1,490.9 L182.6,491.0 L183.1,491.0 L183.6,491.1 L184.1,491.1 L184.6,491.2 L185.1,491.2 L185.6,491.3 L186.0,491.3" fill="none" stroke="#2c5454" stroke-width="2.5" stroke-linejoin="round"/>
<path d="M186.0,491.3 L186.5,491.3 L187.0,491.2 L187.5,491.2 L188.0,491.1 L188.5,491.1 L189.0,491.0 L189.5,490.9 L190.0,490.9 L190.5,490.8 L191.0,490.7 L191.5,490.5 L192.0,490.4 L192.5,490.3 L193.0,490.1 L193.5,489.9 L194.0,489.7 L194.5,489.5 L195.0,489.3 L195.5,489.1 L196.0,488.9 L196.5,488.7 L197.0,488.4 L197.5,488.2 L198.0,488.0 L198.5,487.7 L199.0,487.5 L199.5,487.2 L200.0,487.0 L200.5,486.8 L201.0,486.5 L201.5,486.3 L202.0,486.1 L202.5,485.9 L203.0,485.6 L203.5,485.4 L204.0,485.2 L204.5,485.0 L205.0,484.9 L205.5,484.7 L206.0,484.5 L206.5,484.3 L207.0,484.2 L207.5,484.1 L208.0,483.9 L208.5,483.8 L209.0,483.7 L209.5,483.6 L210.0,483.6 L210.5,483.5 L211.0,483.5 L211.5,483.4 L212.0,483.4 L212.5,483.5 L213.0,483.5 L213.5,483.6 L214.0,483.6 L214.5,483.7 L215.0,483.9 L215.5,484.0 L216.0,484.2 L216.5,484.3 L217.0,484.5 L217.5,484.7 L218.0,485.0 L218.5,485.2 L219.0,485.4 L219.5,485.7 L220.0,486.0 L220.5,486.3 L221.0,486.6 L221.5,486.8 L222.0,487.1 L222.5,487.4 L223.0,487.7 L223.5,488.0 L224.0,488.3 L224.5,488.6 L225.0,488.8 L225.5,489.1 L226.0,489.4 L226.5,489.6 L227.0,489.9 L227.5,490.1 L227.7,490.2" fill="none" stroke="#2c5454" stroke-width="2.5" stroke-linejoin="round"/>
<line x1="186.00" y1="491.30" x2="186.50" y2="494.50" stroke="#2c5454" stroke-width="1.5"/>
<path d="M227.7,490.4 L229.8,499.2 L232.4,508.0 L235.1,517.6 L236.5,523.6" fill="none" stroke="#2c5454" stroke-width="1.4"/>
<path d="M236.5,523.6 L237.7,548.0 L239.3,530.7" fill="none" stroke="#6a9090" stroke-width="1.0"/>
<path d="M239.30,530.70 C239.57,531.57 240.32,534.15 240.90,535.90 C241.48,537.65 242.10,539.32 242.80,541.20 C243.50,543.08 244.18,545.42 245.10,547.20 C246.02,548.98 246.85,550.72 248.30,551.90 C249.75,553.08 251.83,553.72 253.80,554.30 C255.77,554.88 257.75,554.88 260.10,555.40 C262.45,555.92 265.55,556.53 267.90,557.40 C270.25,558.27 272.48,559.28 274.20,560.60 C275.92,561.92 277.20,563.73 278.20,565.30 C279.20,566.87 279.63,568.08 280.20,570.00 C280.77,571.92 281.37,575.67 281.60,576.80" fill="none" stroke="#2c5454" stroke-width="1.6" stroke-linejoin="round"/>
<path d="M281.6,576.8 L281.6,589.7" fill="none" stroke="#2c5454" stroke-width="1.2"/>
<circle cx="227.70" cy="490.40" r="1.3" fill="#2c5454"/>
<circle cx="229.80" cy="499.20" r="1.3" fill="#2c5454"/>
<circle cx="232.40" cy="508.00" r="1.3" fill="#2c5454"/>
<circle cx="235.10" cy="517.60" r="1.3" fill="#2c5454"/>
<circle cx="236.50" cy="523.60" r="1.3" fill="#2c5454"/>
<circle cx="237.70" cy="548.00" r="1.3" fill="#2c5454"/>
<circle cx="239.30" cy="530.70" r="1.3" fill="#2c5454"/>
<circle cx="240.90" cy="535.90" r="1.3" fill="#2c5454"/>
<circle cx="242.80" cy="541.20" r="1.3" fill="#2c5454"/>
<circle cx="245.10" cy="547.20" r="1.3" fill="#2c5454"/>
<circle cx="248.30" cy="551.90" r="1.3" fill="#2c5454"/>
<circle cx="253.80" cy="554.30" r="1.3" fill="#2c5454"/>
<circle cx="260.10" cy="555.40" r="1.3" fill="#2c5454"/>
<circle cx="267.90" cy="557.40" r="1.3" fill="#2c5454"/>
<circle cx="274.20" cy="560.60" r="1.3" fill="#2c5454"/>
<circle cx="278.20" cy="565.30" r="1.3" fill="#2c5454"/>
<circle cx="280.20" cy="570.00" r="1.3" fill="#2c5454"/>
<circle cx="281.60" cy="576.80" r="1.3" fill="#2c5454"/>
<line x1="227.20" y1="510.20" x2="201.50" y2="510.20" stroke="#5a8585" stroke-width="0.9"/>
<path d="M197.90,510.20 L203.90,508.40 L202.40,510.20 L203.90,512.00 Z" fill="#5a8585"/>
<line x1="170.10" y1="555.70" x2="193.60" y2="555.70" stroke="#55aa55" stroke-width="0.9"/>
<path d="M197.20,555.70 L191.20,553.90 L192.70,555.70 L191.20,557.50 Z" fill="#55aa55"/>
<line x1="403.70" y1="432.40" x2="633.80" y2="432.40" stroke="#333" stroke-width="1.5"/>
<line x1="403.70" y1="432.40" x2="403.70" y2="590.40" stroke="#333" stroke-width="1.2"/>
<line x1="633.80" y1="432.40" x2="633.80" y2="590.40" stroke="#555" stroke-width="1.5"/>
<line x1="403.20" y1="590.40" x2="634.30" y2="590.40" stroke="#333" stroke-width="1.5"/>
<line x1="422.90" y1="590.40" x2="422.90" y2="593.70" stroke="#333" stroke-width="1"/>
<line x1="492.10" y1="590.40" x2="492.10" y2="593.70" stroke="#333" stroke-width="1"/>
<line x1="561.30" y1="590.40" x2="561.30" y2="593.70" stroke="#333" stroke-width="1"/>
<line x1="630.50" y1="590.40" x2="630.50" y2="593.70" stroke="#333" stroke-width="1"/>
<line x1="405.60" y1="590.40" x2="405.60" y2="592.40" stroke="#555" stroke-width="1"/>
<line x1="440.20" y1="590.40" x2="440.20" y2="592.40" stroke="#555" stroke-width="1"/>
<line x1="457.50" y1="590.40" x2="457.50" y2="592.40" stroke="#555" stroke-width="1"/>
<line x1="474.80" y1="590.40" x2="474.80" y2="592.40" stroke="#555" stroke-width="1"/>
<line x1="509.40" y1="590.40" x2="509.40" y2="592.40" stroke="#555" stroke-width="1"/>
<line x1="526.70" y1="590.40" x2="526.70" y2="592.40" stroke="#555" stroke-width="1"/>
<line x1="544.00" y1="590.40" x2="544.00" y2="592.40" stroke="#555" stroke-width="1"/>
<line x1="578.60" y1="590.40" x2="578.60" y2="592.40" stroke="#555" stroke-width="1"/>
<line x1="595.90" y1="590.40" x2="595.90" y2="592.40" stroke="#555" stroke-width="1"/>
<line x1="613.20" y1="590.40" x2="613.20" y2="592.40" stroke="#555" stroke-width="1"/>
<line x1="403.70" y1="432.40" x2="407.20" y2="432.40" stroke="#333" stroke-width="1"/>
<line x1="403.70" y1="462.82" x2="407.20" y2="462.82" stroke="#333" stroke-width="1"/>
<line x1="403.70" y1="493.24" x2="407.20" y2="493.24" stroke="#333" stroke-width="1"/>
<line x1="403.70" y1="523.66" x2="407.20" y2="523.66" stroke="#333" stroke-width="1"/>
<line x1="403.70" y1="554.08" x2="407.20" y2="554.08" stroke="#333" stroke-width="1"/>
<line x1="403.70" y1="584.50" x2="407.20" y2="584.50" stroke="#333" stroke-width="1"/>
<line x1="403.70" y1="447.61" x2="405.70" y2="447.61" stroke="#555" stroke-width="1"/>
<line x1="403.70" y1="478.03" x2="405.70" y2="478.03" stroke="#555" stroke-width="1"/>
<line x1="403.70" y1="508.45" x2="405.70" y2="508.45" stroke="#555" stroke-width="1"/>
<line x1="403.70" y1="538.87" x2="405.70" y2="538.87" stroke="#555" stroke-width="1"/>
<line x1="403.70" y1="569.29" x2="405.70" y2="569.29" stroke="#555" stroke-width="1"/>
<line x1="633.80" y1="590.00" x2="630.30" y2="590.00" stroke="#333" stroke-width="1"/>
<line x1="633.80" y1="561.26" x2="630.30" y2="561.26" stroke="#333" stroke-width="1"/>
<line x1="633.80" y1="532.52" x2="630.30" y2="532.52" stroke="#333" stroke-width="1"/>
<line x1="633.80" y1="503.78" x2="630.30" y2="503.78" stroke="#333" stroke-width="1"/>
<line x1="633.80" y1="475.04" x2="630.30" y2="475.04" stroke="#333" stroke-width="1"/>
<line x1="633.80" y1="446.30" x2="630.30" y2="446.30" stroke="#333" stroke-width="1"/>
<line x1="633.80" y1="575.63" x2="631.80" y2="575.63" stroke="#555" stroke-width="1"/>
<line x1="633.80" y1="546.89" x2="631.80" y2="546.89" stroke="#555" stroke-width="1"/>
<line x1="633.80" y1="518.15" x2="631.80" y2="518.15" stroke="#555" stroke-width="1"/>
<line x1="633.80" y1="489.41" x2="631.80" y2="489.41" stroke="#555" stroke-width="1"/>
<line x1="633.80" y1="460.67" x2="631.80" y2="460.67" stroke="#555" stroke-width="1"/>
<text x="0" y="0" font-size="13" text-anchor="middle" fill="#000" transform="translate(422.90 606.70) scale(1 1.08)">-0.8</text>
<text x="0" y="0" font-size="13" text-anchor="middle" fill="#000" transform="translate(492.10 606.70) scale(1 1.08)">-0.4</text>
<text x="0" y="0" font-size="13" text-anchor="middle" fill="#000" transform="translate(561.30 606.70) scale(1 1.08)">0.0</text>
<text x="0" y="0" font-size="13" text-anchor="middle" fill="#000" transform="translate(630.50 606.70) scale(1 1.08)">0.4</text>
<text x="0" y="0" font-size="13" text-anchor="end" fill="#000" transform="translate(399.80 437.10) scale(1 1.08)">30</text>
<text x="0" y="0" font-size="13" text-anchor="end" fill="#000" transform="translate(399.80 467.52) scale(1 1.08)">20</text>
<text x="0" y="0" font-size="13" text-anchor="end" fill="#000" transform="translate(399.80 497.94) scale(1 1.08)">10</text>
<text x="0" y="0" font-size="13" text-anchor="end" fill="#000" transform="translate(399.80 528.36) scale(1 1.08)">0</text>
<text x="0" y="0" font-size="13" text-anchor="end" fill="#000" transform="translate(399.80 558.78) scale(1 1.08)">-10</text>
<text x="0" y="0" font-size="13" text-anchor="end" fill="#000" transform="translate(399.80 589.20) scale(1 1.08)">-20</text>
<text x="0" y="0" font-size="13" text-anchor="start" fill="#000" transform="translate(638.20 594.70) scale(1 1.08)">0</text>
<text x="0" y="0" font-size="13" text-anchor="start" fill="#000" transform="translate(638.20 565.96) scale(1 1.08)">2</text>
<text x="0" y="0" font-size="13" text-anchor="start" fill="#000" transform="translate(638.20 537.22) scale(1 1.08)">4</text>
<text x="0" y="0" font-size="13" text-anchor="start" fill="#000" transform="translate(638.20 508.48) scale(1 1.08)">6</text>
<text x="0" y="0" font-size="13" text-anchor="start" fill="#000" transform="translate(638.20 479.74) scale(1 1.08)">8</text>
<text x="0" y="0" font-size="13" text-anchor="start" fill="#000" transform="translate(638.20 451.00) scale(1 1.08)">10</text>
<text x="0" y="0" font-size="16" text-anchor="middle" fill="#000" transform="translate(519.30 629.20) scale(1 1.08)">V<tspan font-size="12" dy="3">G</tspan><tspan dy="-3">(V)</tspan></text>
<text x="0" y="0" font-size="16" text-anchor="middle" fill="#000" transform="translate(374.90 511.60) rotate(-90) scale(1.035 1)">DOS (arb. units)</text>
<text x="0" y="0" font-size="16" text-anchor="middle" fill="#000" transform="translate(671.60 511.80) rotate(-90) scale(1.035 1)">√I<tspan font-size="12" dy="3">Drain</tspan><tspan dy="-3"> (mA</tspan><tspan font-size="11.5" dy="-6">0.5</tspan><tspan dy="6">)</tspan></text>
<text x="0" y="0" font-size="16" text-anchor="start" fill="#000" font-weight="bold" transform="translate(356.30 435.40) scale(1 1.08)">f.</text>
<text x="0" y="0" font-size="14" text-anchor="start" fill="#1f3a7a" font-weight="bold" transform="translate(412.70 580.40) scale(1 1.08)">L = 250 μm</text>
<line x1="477.30" y1="437.10" x2="477.30" y2="567.20" stroke="#ff1a1a" stroke-width="2.4" stroke-dasharray="7 5.6"/>
<path d="M404.90,441.40 C405.40,441.68 405.80,441.93 407.90,443.10 C410.00,444.27 412.98,445.92 417.50,448.40 C422.02,450.88 429.15,454.78 435.00,458.00 C440.85,461.22 448.22,465.22 452.60,467.70 C456.98,470.18 458.68,471.00 461.30,472.90 C463.92,474.80 466.25,476.90 468.30,479.10 C470.35,481.30 471.85,483.48 473.60,486.10 C475.35,488.72 477.05,491.60 478.80,494.80 C480.55,498.00 482.35,501.80 484.10,505.30 C485.85,508.80 487.27,511.55 489.30,515.80 C491.33,520.05 493.68,525.97 496.30,530.80 C498.92,535.63 502.08,540.43 505.00,544.80 C507.92,549.17 510.87,553.20 513.80,557.00 C516.73,560.80 519.68,564.38 522.60,567.60 C525.52,570.82 528.38,573.68 531.30,576.30 C534.22,578.92 537.18,581.55 540.10,583.30 C543.02,585.05 546.32,585.92 548.80,586.80 C551.28,587.68 551.47,588.17 555.00,588.60 C558.53,589.03 557.40,589.22 570.00,589.40 C582.60,589.58 620.50,589.65 630.60,589.70" fill="none" stroke="#0a0aa0" stroke-width="2.4" stroke-linejoin="round"/>
<path d="M403.50,513.20 C407.30,513.20 419.58,513.28 426.30,513.20 C433.02,513.12 437.97,512.70 443.80,512.70 C449.63,512.70 456.92,513.27 461.30,513.20 C465.68,513.13 467.77,512.80 470.10,512.30 C472.43,511.80 473.70,511.22 475.30,510.20 C476.90,509.18 478.38,507.73 479.70,506.20 C481.02,504.67 482.03,503.48 483.20,501.00 C484.37,498.52 485.38,494.37 486.70,491.30 C488.02,488.23 489.63,485.37 491.10,482.60 C492.57,479.83 493.75,476.90 495.50,474.70 C497.25,472.50 499.42,470.87 501.60,469.40 C503.78,467.93 506.37,466.68 508.60,465.90 C510.83,465.12 512.47,465.20 515.00,464.70 C517.53,464.20 522.33,463.20 523.80,462.90" fill="none" stroke="#2a2a58" stroke-width="2.3" stroke-linejoin="round"/>
<path d="M523.8,462.9 L525.9,466.0 L528.1,461.9" fill="none" stroke="#2a2a58" stroke-width="1.4"/>
<path d="M528.10,461.90 C530.30,461.60 538.52,460.88 541.30,460.10 C544.08,459.32 543.48,458.65 544.80,457.20 C546.12,455.75 547.88,452.13 549.20,451.40 C550.52,450.67 551.53,452.22 552.70,452.80 C553.87,453.38 555.25,455.35 556.20,454.90 C557.15,454.45 557.53,452.27 558.40,450.10 C559.27,447.93 560.45,442.03 561.40,441.90 C562.35,441.77 563.22,445.73 564.10,449.30 C564.98,452.87 565.83,458.63 566.70,463.30 C567.57,467.97 568.28,472.33 569.30,477.30 C570.32,482.27 571.63,488.72 572.80,493.10 C573.97,497.48 575.02,500.45 576.30,503.60 C577.58,506.75 579.05,509.48 580.50,512.00 C581.95,514.52 584.00,517.22 585.00,518.70 C586.00,520.18 586.25,520.53 586.50,520.90" fill="none" stroke="#2a2a58" stroke-width="1.5" stroke-linejoin="round"/>
<circle cx="561.40" cy="441.90" r="1.0" fill="#2a2a58"/>
<circle cx="564.00" cy="448.94" r="1.0" fill="#2a2a58"/>
<circle cx="566.60" cy="462.76" r="1.0" fill="#2a2a58"/>
<circle cx="569.20" cy="476.80" r="1.0" fill="#2a2a58"/>
<circle cx="571.80" cy="489.14" r="1.0" fill="#2a2a58"/>
<circle cx="574.40" cy="498.42" r="1.0" fill="#2a2a58"/>
<circle cx="577.00" cy="505.23" r="1.0" fill="#2a2a58"/>
<circle cx="579.60" cy="510.42" r="1.0" fill="#2a2a58"/>
<circle cx="582.20" cy="514.78" r="1.0" fill="#2a2a58"/>
<circle cx="584.80" cy="518.45" r="1.0" fill="#2a2a58"/>
<circle cx="585.00" cy="518.70" r="1.0" fill="#2a2a58"/>
<path d="M586.5,520.9 L586.8,527.7 L587.9,520.9" fill="none" stroke="#2a2a58" stroke-width="1.2"/>
<path d="M587.90,520.90 C588.65,521.65 590.40,523.90 592.40,525.40 C594.40,526.90 597.15,528.70 599.90,529.90 C602.65,531.10 606.15,531.60 608.90,532.60 C611.65,533.60 614.17,534.60 616.40,535.90 C618.63,537.20 620.57,538.65 622.30,540.40 C624.03,542.15 625.67,544.17 626.80,546.40 C627.93,548.63 628.55,550.82 629.10,553.80 C629.65,556.78 629.85,561.05 630.10,564.30 C630.35,567.55 630.52,571.80 630.60,573.30" fill="none" stroke="#2a2a58" stroke-width="1.5" stroke-linejoin="round"/>
<circle cx="599.90" cy="529.90" r="1.0" fill="#2a2a58"/>
<circle cx="608.90" cy="532.60" r="1.0" fill="#2a2a58"/>
<circle cx="616.40" cy="535.90" r="1.0" fill="#2a2a58"/>
<circle cx="622.30" cy="540.40" r="1.0" fill="#2a2a58"/>
<circle cx="626.80" cy="546.40" r="1.0" fill="#2a2a58"/>
<circle cx="629.10" cy="553.80" r="1.0" fill="#2a2a58"/>
<circle cx="630.10" cy="564.30" r="1.0" fill="#2a2a58"/>
<path d="M630.6,573.3 L630.6,589.7" fill="none" stroke="#2a2a58" stroke-width="1.0"/>
<line x1="541.50" y1="489.90" x2="566.70" y2="489.90" stroke="#d4d4d8" stroke-width="1.6"/>
<path d="M537.8,489.9 L544,487.9 L542.5,489.9 L544,491.9 Z" fill="#2a2a58"/>
<line x1="525.20" y1="561.40" x2="548.70" y2="561.40" stroke="#3a3aa8" stroke-width="1.0"/>
<path d="M552.30,561.40 L546.30,559.40 L547.80,561.40 L546.30,563.40 Z" fill="#3a3aa8"/>
<path d="M58.5,9.2 L59.0,9.2 L59.5,9.2 L60.0,9.3 L60.5,9.3 L61.0,9.3 L61.5,9.3 L62.0,9.4 L62.5,9.4 L63.0,9.4 L63.5,9.4 L64.0,9.5 L64.5,9.5 L65.0,9.5 L65.5,9.5 L66.0,9.6 L66.5,9.6 L67.0,9.6 L67.5,9.6 L68.0,9.6 L68.5,9.7 L69.0,9.7 L69.5,9.7 L70.0,9.7 L70.5,9.8 L71.0,9.8 L71.5,9.8 L72.0,9.8 L72.5,9.8 L73.0,9.9 L73.5,9.9 L74.0,9.9 L74.5,9.9 L75.0,10.0 L75.5,10.0 L76.0,10.0 L76.5,10.0 L77.0,10.1 L77.5,10.1 L78.0,10.1 L78.5,10.1 L79.0,10.2 L79.5,10.2 L80.0,10.2 L80.5,10.3 L81.0,10.3 L81.5,10.3 L82.0,10.4 L82.5,10.4 L83.0,10.4 L83.5,10.5 L84.0,10.5 L84.5,10.5 L85.0,10.6 L85.5,10.6 L86.0,10.6 L86.5,10.6 L87.0,10.7 L87.5,10.7 L88.0,10.7 L88.5,10.7 L89.0,10.7 L89.5,10.8 L90.0,10.8 L90.5,10.8 L91.0,10.8 L91.5,10.8 L92.0,10.8 L92.5,10.8 L93.0,10.9 L93.5,10.9 L94.0,10.9 L94.5,10.9 L95.0,10.9 L95.5,10.9 L96.0,11.0 L96.5,11.0 L97.0,11.0 L97.5,11.0 L98.0,11.0 L98.5,11.1 L99.0,11.1 L99.5,11.1 L100.0,11.1 L100.5,11.1 L101.0,11.1 L101.5,11.2 L102.0,11.2 L102.5,11.2 L103.0,11.2 L103.5,11.3 L104.0,11.3 L104.5,11.3 L105.0,11.3 L105.5,11.3 L106.0,11.4 L106.5,11.4 L107.0,11.4 L107.5,11.4 L108.0,11.5 L108.5,11.5 L109.0,11.5 L109.5,11.5 L110.0,11.6 L110.5,11.6 L111.0,11.6 L111.5,11.6 L112.0,11.7 L112.5,11.7 L113.0,11.7 L113.5,11.8 L114.0,11.8 L114.5,11.8 L115.0,11.8 L115.5,11.9 L116.0,11.9 L116.5,11.9 L117.0,12.0 L117.5,12.0 L118.0,12.0 L118.5,12.1 L119.0,12.1 L119.5,12.2 L120.0,12.2 L120.5,12.2 L121.0,12.3 L121.5,12.3 L122.0,12.4 L122.5,12.4 L123.0,12.4 L123.5,12.5 L124.0,12.5 L124.5,12.6 L125.0,12.6 L125.5,12.7 L126.0,12.7 L126.5,12.8 L127.0,12.8 L127.5,12.9 L128.0,12.9 L128.5,13.0 L129.0,13.0 L129.5,13.1 L130.0,13.1 L130.5,13.2 L131.0,13.2 L131.5,13.3 L132.0,13.3 L132.5,13.4 L133.0,13.4 L133.5,13.5 L134.0,13.5 L134.5,13.6 L135.0,13.7 L135.5,13.7 L136.0,13.8 L136.5,13.8 L137.0,13.9 L137.5,14.0 L138.0,14.0 L138.5,14.1 L139.0,14.2 L139.5,14.3 L140.0,14.3 L140.5,14.4 L141.0,14.5 L141.5,14.6 L142.0,14.7 L142.5,14.8 L143.0,14.9 L143.5,15.0 L144.0,15.2 L144.5,15.3 L145.0,15.4 L145.5,15.6 L146.0,15.7 L146.5,15.9 L147.0,16.1 L147.5,16.3 L148.0,16.5 L148.5,16.7 L149.0,16.9 L149.5,17.1 L150.0,17.3 L150.5,17.5 L151.0,17.8 L151.5,18.1 L152.0,18.3 L152.5,18.6 L153.0,18.9 L153.5,19.2 L154.0,19.5 L154.5,19.8 L155.0,20.2 L155.5,20.5 L156.0,20.8 L156.5,21.2 L157.0,21.6 L157.5,21.9 L158.0,22.3 L158.5,22.7 L159.0,23.1 L159.5,23.5 L160.0,23.9 L160.5,24.3 L161.0,24.7 L161.5,25.1 L162.0,25.6 L162.5,26.0 L163.0,26.4 L163.5,26.9 L164.0,27.3 L164.5,27.8 L165.0,28.2 L165.5,28.7 L166.0,29.1 L166.5,29.6 L167.0,30.0 L167.5,30.5 L168.0,30.9 L168.5,31.4 L169.0,31.8 L169.5,32.3 L170.0,32.7 L170.5,33.2 L171.0,33.6 L171.5,34.1 L172.0,34.5 L172.5,34.9 L173.0,35.4 L173.5,35.8 L174.0,36.2 L174.5,36.7 L175.0,37.1 L175.5,37.5 L176.0,38.0 L176.5,38.4 L177.0,38.9 L177.5,39.3 L178.0,39.8 L178.5,40.3 L179.0,40.7 L179.5,41.2 L180.0,41.7 L180.5,42.2 L181.0,42.7 L181.5,43.2 L182.0,43.7 L182.5,44.2 L183.0,44.7 L183.5,45.2 L184.0,45.7 L184.5,46.2 L185.0,46.8 L185.5,47.3 L186.0,47.8 L186.5,48.3 L187.0,48.8 L187.5,49.3 L188.0,49.8 L188.5,50.3 L189.0,50.8 L189.5,51.3 L190.0,51.7 L190.5,52.2 L191.0,52.7 L191.5,53.1 L192.0,53.5 L192.5,54.0 L193.0,54.4 L193.5,54.9 L194.0,55.3 L194.5,55.8 L195.0,56.2 L195.5,56.7 L196.0,57.2 L196.5,57.7 L197.0,58.2 L197.5,58.7 L198.0,59.2 L198.5,59.7 L199.0,60.3 L199.5,60.8 L200.0,61.3 L200.5,61.9 L201.0,62.4 L201.5,63.0 L202.0,63.5 L202.5,64.0 L203.0,64.6 L203.5,65.1 L204.0,65.7 L204.5,66.2 L205.0,66.7 L205.5,67.3 L206.0,67.8 L206.5,68.4 L207.0,68.9 L207.5,69.5 L208.0,70.0 L208.5,70.6 L209.0,71.1 L209.5,71.7 L210.0,72.2 L210.5,72.8 L211.0,73.3 L211.5,73.9 L212.0,74.4 L212.5,75.0 L213.0,75.5 L213.5,76.1 L214.0,76.6 L214.5,77.1 L215.0,77.7 L215.5,78.2 L216.0,78.7 L216.5,79.2 L217.0,79.7 L217.5,80.3 L218.0,80.8 L218.5,81.3 L219.0,81.8 L219.5,82.3 L220.0,82.8 L220.5,83.3 L221.0,83.8 L221.5,84.3 L222.0,84.8 L222.5,85.3 L223.0,85.8 L223.5,86.3 L224.0,86.8 L224.5,87.3 L225.0,87.8 L225.5,88.3 L226.0,88.8 L226.5,89.3 L227.0,89.8 L227.5,90.2 L228.0,90.7 L228.5,91.2 L229.0,91.7 L229.5,92.2 L230.0,92.7 L230.5,93.2 L231.0,93.7 L231.5,94.2 L232.0,94.7 L232.5,95.3 L233.0,95.8 L233.5,96.3 L234.0,96.8 L234.5,97.4 L235.0,97.9 L235.5,98.5 L236.0,99.0 L236.5,99.5 L237.0,100.1 L237.5,100.6 L238.0,101.2 L238.5,101.7 L239.0,102.3 L239.5,102.8 L240.0,103.4 L240.5,103.9 L241.0,104.5 L241.5,105.1 L242.0,105.6 L242.5,106.2 L243.0,106.8 L243.5,107.4 L244.0,107.9 L244.5,108.5 L245.0,109.1 L245.5,109.7 L246.0,110.3 L246.5,110.8 L247.0,111.4 L247.5,112.0 L248.0,112.6 L248.5,113.2 L249.0,113.7 L249.5,114.3 L250.0,114.9 L250.5,115.4 L251.0,116.0 L251.5,116.5 L252.0,117.1 L252.5,117.6 L253.0,118.2 L253.5,118.7 L254.0,119.3 L254.5,119.8 L255.0,120.3 L255.5,120.8 L256.0,121.4 L256.5,121.9 L257.0,122.4 L257.5,123.0 L258.0,123.5 L258.5,124.1 L259.0,124.6 L259.5,125.2 L260.0,125.7 L260.5,126.3 L261.0,126.9 L261.5,127.4 L262.0,128.0 L262.5,128.5 L263.0,129.1 L263.5,129.6 L264.0,130.2 L264.5,130.7 L265.0,131.2 L265.5,131.8 L266.0,132.3 L266.5,132.8 L267.0,133.4 L267.5,133.9 L268.0,134.4 L268.5,135.0 L269.0,135.5 L269.5,136.0 L270.0,136.6 L270.5,137.1 L271.0,137.6 L271.5,138.2 L272.0,138.7 L272.5,139.3 L273.0,139.8 L273.5,140.4 L274.0,140.9 L274.5,141.5 L275.0,142.0 L275.5,142.6 L276.0,143.1 L276.5,143.7 L277.0,144.2 L277.5,144.8 L278.0,145.3 L278.5,145.9 L279.0,146.4 L279.5,146.9 L280.0,147.4 L280.5,147.9 L281.0,148.4 L281.5,148.8 L282.0,149.3 L282.5,149.7 L283.0,150.2 L283.5,150.6 L284.0,151.0 L284.5,151.5 L285.0,151.9 L285.5,152.3" fill="none" stroke="#888888" stroke-width="2.0" stroke-dasharray="4.6 3.4" stroke-linejoin="round"/>
<path d="M55.5,82.6 L56.0,82.4 L56.5,82.3 L57.0,82.1 L57.5,82.0 L58.0,81.8 L58.5,81.7 L59.0,81.5 L59.5,81.3 L60.0,81.2 L60.5,81.0 L61.0,80.9 L61.5,80.7 L62.0,80.6 L62.5,80.4 L63.0,80.2 L63.5,80.1 L64.0,79.9 L64.5,79.8 L65.0,79.6 L65.5,79.5 L66.0,79.3 L66.5,79.1 L67.0,79.0 L67.5,78.8 L68.0,78.7 L68.5,78.5 L69.0,78.4 L69.5,78.2 L70.0,78.1 L70.5,77.9 L71.0,77.8 L71.5,77.6 L72.0,77.5 L72.5,77.3 L73.0,77.2 L73.5,77.0 L74.0,76.9 L74.5,76.7 L75.0,76.6 L75.5,76.4 L76.0,76.3 L76.5,76.1 L77.0,76.0 L77.5,75.8 L78.0,75.7 L78.5,75.6 L79.0,75.4 L79.5,75.3 L80.0,75.1 L80.5,75.0 L81.0,74.8 L81.5,74.7 L82.0,74.5 L82.5,74.4 L83.0,74.2 L83.5,74.0 L84.0,73.9 L84.5,73.7 L85.0,73.5 L85.5,73.4 L86.0,73.2 L86.5,73.0 L87.0,72.9 L87.5,72.7 L88.0,72.5 L88.5,72.4 L89.0,72.2 L89.5,72.0 L90.0,71.8 L90.5,71.6 L91.0,71.5 L91.5,71.3 L92.0,71.1 L92.5,70.9 L93.0,70.7 L93.5,70.5 L94.0,70.4 L94.5,70.2 L95.0,70.0 L95.5,69.8 L96.0,69.6 L96.5,69.3 L97.0,69.1 L97.5,68.9 L98.0,68.6 L98.5,68.4 L99.0,68.1 L99.5,67.8 L100.0,67.5 L100.5,67.2 L101.0,66.9 L101.5,66.6 L102.0,66.2 L102.5,65.8 L103.0,65.4 L103.5,65.0 L104.0,64.6 L104.5,64.1 L105.0,63.6 L105.5,63.1 L106.0,62.6 L106.5,62.1 L107.0,61.5 L107.5,60.9 L108.0,60.3 L108.5,59.7 L109.0,59.1 L109.5,58.4 L110.0,57.8 L110.5,57.2 L111.0,56.5 L111.5,55.9 L112.0,55.3 L112.5,54.6 L113.0,54.0 L113.5,53.4 L114.0,52.7 L114.5,52.1 L115.0,51.5 L115.5,50.9 L116.0,50.3 L116.5,49.6 L117.0,49.0 L117.5,48.4 L118.0,47.8 L118.5,47.1 L119.0,46.5 L119.5,45.9 L120.0,45.3 L120.5,44.6 L121.0,44.0 L121.5,43.4 L122.0,42.8 L122.5,42.2 L123.0,41.6 L123.5,40.9 L124.0,40.4 L124.5,39.8 L125.0,39.2 L125.5,38.6 L126.0,38.1 L126.5,37.6 L127.0,37.1 L127.5,36.6 L128.0,36.2 L128.5,35.7 L129.0,35.3 L129.5,34.9 L130.0,34.5 L130.5,34.1 L131.0,33.8 L131.5,33.5 L132.0,33.2 L132.5,32.9 L133.0,32.6 L133.5,32.3 L134.0,32.1 L134.5,31.8 L135.0,31.6 L135.5,31.4 L136.0,31.2 L136.5,31.0 L137.0,30.9 L137.5,30.7 L138.0,30.6 L138.5,30.5 L139.0,30.3 L139.5,30.3 L140.0,30.2 L140.5,30.1 L141.0,30.1 L141.5,30.0 L142.0,30.0 L142.5,30.0 L143.0,30.0 L143.5,30.0 L144.0,30.1 L144.5,30.1 L145.0,30.2 L145.5,30.3 L146.0,30.3 L146.5,30.5 L147.0,30.6 L147.5,30.7 L148.0,30.9 L148.5,31.1 L149.0,31.3 L149.5,31.5 L150.0,31.8 L150.5,32.0 L151.0,32.3 L151.5,32.6 L152.0,32.9 L152.5,33.3 L153.0,33.7 L153.5,34.0 L154.0,34.5 L154.5,34.9 L155.0,35.3 L155.5,35.8 L156.0,36.3 L156.5,36.8 L157.0,37.3 L157.5,37.9 L158.0,38.4 L158.5,39.0 L159.0,39.6 L159.5,40.2 L160.0,40.8 L160.5,41.4 L161.0,42.0 L161.5,42.6 L162.0,43.3 L162.5,43.9 L163.0,44.5 L163.5,45.1 L164.0,45.7 L164.5,46.4 L165.0,47.0 L165.5,47.6 L166.0,48.3 L166.5,49.0 L167.0,49.7 L167.5,50.4 L168.0,51.2 L168.5,51.9 L169.0,52.7 L169.5,53.5 L170.0,54.4 L170.5,55.2 L171.0,56.1 L171.5,56.9 L172.0,57.8 L172.5,58.7 L173.0,59.6 L173.5,60.5 L174.0,61.4 L174.5,62.3 L175.0,63.2 L175.5,64.1 L176.0,65.0 L176.5,66.0 L177.0,67.0 L177.5,67.9 L178.0,68.9 L178.5,69.9 L179.0,70.9 L179.5,71.9 L180.0,72.9 L180.5,73.9 L181.0,74.9 L181.5,75.9 L182.0,76.9 L182.5,77.9 L183.0,78.8 L183.5,79.8 L184.0,80.8 L184.5,81.7 L185.0,82.7 L185.5,83.6 L186.0,84.6 L186.5,85.5 L187.0,86.4 L187.5,87.4 L188.0,88.3 L188.5,89.3 L189.0,90.2 L189.5,91.1 L190.0,92.1 L190.5,93.0 L191.0,93.9 L191.5,94.8 L192.0,95.8 L192.5,96.7 L193.0,97.6 L193.5,98.5 L194.0,99.5 L194.5,100.4 L195.0,101.3 L195.5,102.2 L196.0,103.1 L196.5,104.1 L197.0,105.0 L197.5,105.9 L198.0,106.8 L198.5,107.7 L199.0,108.6 L199.5,109.5 L200.0,110.4 L200.5,111.3 L201.0,112.2 L201.5,113.0 L202.0,113.9 L202.5,114.8 L203.0,115.7 L203.5,116.5 L204.0,117.4 L204.5,118.2 L205.0,119.1 L205.5,119.9 L206.0,120.7 L206.5,121.6 L207.0,122.4 L207.5,123.2 L208.0,124.0 L208.5,124.8 L209.0,125.5 L209.5,126.3 L210.0,127.1 L210.5,127.8 L211.0,128.6 L211.5,129.3 L212.0,130.1 L212.5,130.8 L213.0,131.6 L213.5,132.3 L214.0,133.0 L214.5,133.8 L215.0,134.5 L215.5,135.3 L216.0,136.0 L216.5,136.8 L217.0,137.5 L217.5,138.3 L218.0,139.0 L218.5,139.8 L219.0,140.5 L219.5,141.3 L220.0,142.0 L220.5,142.8 L221.0,143.5 L221.5,144.3 L222.0,145.0 L222.5,145.7 L223.0,146.5 L223.5,147.2 L224.0,147.9 L224.5,148.5 L225.0,149.2 L225.5,149.8 L226.0,150.5 L226.5,151.1 L227.0,151.7 L227.5,152.2 L228.0,152.8 L228.5,153.3 L229.0,153.8 L229.5,154.3 L230.0,154.8 L230.5,155.2 L231.0,155.7 L231.5,156.1 L232.0,156.5 L232.5,156.9 L233.0,157.3 L233.5,157.7 L234.0,158.1 L234.5,158.4 L235.0,158.8 L235.5,159.1 L236.0,159.4 L236.5,159.7 L237.0,160.0 L237.5,160.3 L238.0,160.6 L238.5,160.9 L239.0,161.2 L239.5,161.4 L240.0,161.6 L240.5,161.9 L241.0,162.1 L241.5,162.3 L242.0,162.5 L242.5,162.7 L243.0,162.8 L243.5,163.0 L244.0,163.1 L244.5,163.3 L245.0,163.4 L245.5,163.5 L246.0,163.6 L246.5,163.7 L247.0,163.8 L247.5,163.9 L248.0,164.0 L248.5,164.1 L249.0,164.1 L249.5,164.2 L250.0,164.3 L250.5,164.3 L251.0,164.4 L251.5,164.4 L252.0,164.4 L252.5,164.5 L253.0,164.5 L253.5,164.5 L254.0,164.6 L254.5,164.6 L255.0,164.6 L255.5,164.6 L256.0,164.6 L256.5,164.7 L257.0,164.7 L257.5,164.7 L258.0,164.7 L258.5,164.7 L259.0,164.8 L259.5,164.8 L260.0,164.8 L260.5,164.8 L261.0,164.8 L261.5,164.8 L262.0,164.8 L262.5,164.9 L263.0,164.9 L263.5,164.9 L264.0,164.9 L264.5,164.9 L265.0,164.9 L265.5,164.9 L266.0,164.9 L266.5,164.9 L267.0,164.9 L267.5,165.0 L268.0,165.0 L268.5,165.0 L269.0,165.0 L269.5,165.0 L270.0,165.0" fill="none" stroke="#2a5858" stroke-width="1.35" stroke-linejoin="round"/>
<path d="M55.5,82.6 L56.0,82.7 L56.5,82.8 L57.0,82.9 L57.5,83.0 L58.0,83.1 L58.5,83.2 L59.0,83.3 L59.5,83.3 L60.0,83.4 L60.5,83.5 L61.0,83.6 L61.5,83.7 L62.0,83.7 L62.5,83.8 L63.0,83.9 L63.5,83.9 L64.0,84.0 L64.5,84.0 L65.0,84.0 L65.5,84.1 L66.0,84.1 L66.5,84.1 L67.0,84.2 L67.5,84.2 L68.0,84.2 L68.5,84.2 L69.0,84.2 L69.5,84.2 L70.0,84.2 L70.5,84.2 L71.0,84.2 L71.5,84.1 L72.0,84.1 L72.5,84.1 L73.0,84.1 L73.5,84.0 L74.0,84.0 L74.5,84.0 L75.0,83.9 L75.5,83.9 L76.0,83.8 L76.5,83.8 L77.0,83.7 L77.5,83.7 L78.0,83.6 L78.5,83.6 L79.0,83.5 L79.5,83.5 L80.0,83.4 L80.5,83.4 L81.0,83.3 L81.5,83.3 L82.0,83.2 L82.5,83.2 L83.0,83.1 L83.5,83.1 L84.0,83.0 L84.5,83.0 L85.0,82.9 L85.5,82.9 L86.0,82.9 L86.5,82.8 L87.0,82.8 L87.5,82.7 L88.0,82.7 L88.5,82.6 L89.0,82.6 L89.5,82.5 L90.0,82.5 L90.5,82.4 L91.0,82.3 L91.5,82.3 L92.0,82.2 L92.5,82.1 L93.0,82.1 L93.5,82.0 L94.0,81.9 L94.5,81.8 L95.0,81.7 L95.5,81.6 L96.0,81.5 L96.5,81.4 L97.0,81.3 L97.5,81.1 L98.0,81.0 L98.5,80.8 L99.0,80.7 L99.5,80.5 L100.0,80.3 L100.5,80.2 L101.0,80.0 L101.5,79.8 L102.0,79.5 L102.5,79.3 L103.0,79.1 L103.5,78.8 L104.0,78.6 L104.5,78.3 L105.0,78.0 L105.5,77.7 L106.0,77.4 L106.5,77.1 L107.0,76.7 L107.5,76.4 L108.0,76.1 L108.5,75.7 L109.0,75.3 L109.5,75.0 L110.0,74.6 L110.5,74.3 L111.0,73.9 L111.5,73.5 L112.0,73.2 L112.5,72.8 L113.0,72.5 L113.5,72.2 L114.0,71.8 L114.5,71.5 L115.0,71.2 L115.5,70.8 L116.0,70.5 L116.5,70.1 L117.0,69.8 L117.5,69.5 L118.0,69.1 L118.5,68.7 L119.0,68.4 L119.5,68.0 L120.0,67.6 L120.5,67.3 L121.0,66.9 L121.5,66.5 L122.0,66.1 L122.5,65.7 L123.0,65.3 L123.5,64.9 L124.0,64.5 L124.5,64.1 L125.0,63.7 L125.5,63.3 L126.0,62.9 L126.5,62.5 L127.0,62.1 L127.5,61.6 L128.0,61.2 L128.5,60.8 L129.0,60.4 L129.5,60.0 L130.0,59.6 L130.5,59.2 L131.0,58.8 L131.5,58.4 L132.0,58.0 L132.5,57.6 L133.0,57.3 L133.5,56.9 L134.0,56.5 L134.5,56.2 L135.0,55.8 L135.5,55.5 L136.0,55.2 L136.5,54.9 L137.0,54.5 L137.5,54.2 L138.0,54.0 L138.5,53.7 L139.0,53.4 L139.5,53.1 L140.0,52.9 L140.5,52.6 L141.0,52.4 L141.5,52.2 L142.0,51.9 L142.5,51.7 L143.0,51.5 L143.5,51.3 L144.0,51.1 L144.5,51.0 L145.0,50.8 L145.5,50.6 L146.0,50.5 L146.5,50.4 L147.0,50.3 L147.5,50.2 L148.0,50.1 L148.5,50.0 L149.0,50.0 L149.5,49.9 L150.0,49.9 L150.5,49.9 L151.0,50.0 L151.5,50.0 L152.0,50.1 L152.5,50.2 L153.0,50.3 L153.5,50.4 L154.0,50.5 L154.5,50.7 L155.0,50.9 L155.5,51.1 L156.0,51.3 L156.5,51.5 L157.0,51.8 L157.5,52.0 L158.0,52.3 L158.5,52.6 L159.0,52.9 L159.5,53.2 L160.0,53.5 L160.5,53.9 L161.0,54.2 L161.5,54.6 L162.0,55.0 L162.5,55.3 L163.0,55.7 L163.5,56.1 L164.0,56.6 L164.5,57.0 L165.0,57.5 L165.5,57.9 L166.0,58.4 L166.5,58.9 L167.0,59.4 L167.5,60.0 L168.0,60.5 L168.5,61.1 L169.0,61.7 L169.5,62.3 L170.0,62.9 L170.5,63.5 L171.0,64.1 L171.5,64.7 L172.0,65.4 L172.5,66.0 L173.0,66.7 L173.5,67.3 L174.0,68.0 L174.5,68.6 L175.0,69.2 L175.5,69.9 L176.0,70.5 L176.5,71.1 L177.0,71.8 L177.5,72.4 L178.0,73.0 L178.5,73.7 L179.0,74.3 L179.5,75.0 L180.0,75.7 L180.5,76.4 L181.0,77.1 L181.5,77.8 L182.0,78.5 L182.5,79.3 L183.0,80.1 L183.5,80.9 L184.0,81.7 L184.5,82.5 L185.0,83.3 L185.5,84.1 L186.0,85.0 L186.5,85.8 L187.0,86.6 L187.5,87.5 L188.0,88.4 L188.5,89.2 L189.0,90.1 L189.5,90.9 L190.0,91.8 L190.5,92.6 L191.0,93.5 L191.5,94.3 L192.0,95.1 L192.5,95.9 L193.0,96.7 L193.5,97.5 L194.0,98.3 L194.5,99.1 L195.0,99.8 L195.5,100.5 L196.0,101.3 L196.5,102.0 L197.0,102.7 L197.5,103.4 L198.0,104.1 L198.5,104.8 L199.0,105.5 L199.5,106.2 L200.0,106.9 L200.5,107.6 L201.0,108.3 L201.5,109.0 L202.0,109.8 L202.5,110.5 L203.0,111.3 L203.5,112.1 L204.0,112.9 L204.5,113.7 L205.0,114.5 L205.5,115.4 L206.0,116.2 L206.5,117.1 L207.0,117.9 L207.5,118.8 L208.0,119.6 L208.5,120.5 L209.0,121.3 L209.5,122.2 L210.0,123.0 L210.5,123.8 L211.0,124.6 L211.5,125.4 L212.0,126.2 L212.5,127.0 L213.0,127.8 L213.5,128.5 L214.0,129.3 L214.5,130.0 L215.0,130.7 L215.5,131.5 L216.0,132.2 L216.5,132.9 L217.0,133.6 L217.5,134.3 L218.0,135.0 L218.5,135.8 L219.0,136.5 L219.5,137.2 L220.0,137.9 L220.5,138.7 L221.0,139.4 L221.5,140.1 L222.0,140.9 L222.5,141.6 L223.0,142.4 L223.5,143.1 L224.0,143.9 L224.5,144.6 L225.0,145.3 L225.5,146.1 L226.0,146.8 L226.5,147.5 L227.0,148.2 L227.5,148.9 L228.0,149.5 L228.5,150.2 L229.0,150.8 L229.5,151.4 L230.0,152.0 L230.5,152.6 L231.0,153.1 L231.5,153.6 L232.0,154.1 L232.5,154.6 L233.0,155.1 L233.5,155.5 L234.0,156.0 L234.5,156.4 L235.0,156.8 L235.5,157.2 L236.0,157.6 L236.5,157.9 L237.0,158.3 L237.5,158.6 L238.0,159.0 L238.5,159.3 L239.0,159.6 L239.5,159.9 L240.0,160.2 L240.5,160.5 L241.0,160.8 L241.5,161.1 L242.0,161.3 L242.5,161.6 L243.0,161.8 L243.5,162.0 L244.0,162.2 L244.5,162.4 L245.0,162.6 L245.5,162.8 L246.0,162.9 L246.5,163.1 L247.0,163.2 L247.5,163.3 L248.0,163.5 L248.5,163.6 L249.0,163.7 L249.5,163.8 L250.0,163.9 L250.5,164.0 L251.0,164.0 L251.5,164.1 L252.0,164.2 L252.5,164.2 L253.0,164.3 L253.5,164.3 L254.0,164.4 L254.5,164.4 L255.0,164.5 L255.5,164.5 L256.0,164.6 L256.5,164.6 L257.0,164.6 L257.5,164.7 L258.0,164.7 L258.5,164.7 L259.0,164.7 L259.5,164.8 L260.0,164.8 L260.5,164.8 L261.0,164.8 L261.5,164.8 L262.0,164.8 L262.5,164.9 L263.0,164.9 L263.5,164.9 L264.0,164.9 L264.5,164.9 L265.0,164.9 L265.5,164.9 L266.0,164.9 L266.5,164.9 L267.0,164.9 L267.5,165.0 L268.0,165.0 L268.5,165.0 L269.0,165.0 L269.5,165.0 L270.0,165.0 L270.5,165.0 L271.0,165.0 L271.5,165.0 L272.0,165.0" fill="none" stroke="#2a5858" stroke-width="1.35" stroke-linejoin="round"/>
<path d="M55.5,154.5 L56.0,154.4 L56.5,154.2 L57.0,154.1 L57.5,154.0 L58.0,153.8 L58.5,153.7 L59.0,153.6 L59.5,153.4 L60.0,153.3 L60.5,153.2 L61.0,153.0 L61.5,152.9 L62.0,152.8 L62.5,152.6 L63.0,152.5 L63.5,152.4 L64.0,152.3 L64.5,152.1 L65.0,152.0 L65.5,151.9 L66.0,151.7 L66.5,151.6 L67.0,151.5 L67.5,151.3 L68.0,151.2 L68.5,151.1 L69.0,150.9 L69.5,150.8 L70.0,150.7 L70.5,150.6 L71.0,150.4 L71.5,150.3 L72.0,150.2 L72.5,150.1 L73.0,149.9 L73.5,149.8 L74.0,149.7 L74.5,149.5 L75.0,149.4 L75.5,149.3 L76.0,149.2 L76.5,149.1 L77.0,148.9 L77.5,148.8 L78.0,148.7 L78.5,148.6 L79.0,148.4 L79.5,148.3 L80.0,148.2 L80.5,148.1 L81.0,148.0 L81.5,147.8 L82.0,147.7 L82.5,147.6 L83.0,147.5 L83.5,147.4 L84.0,147.3 L84.5,147.1 L85.0,147.0 L85.5,146.9 L86.0,146.8 L86.5,146.7 L87.0,146.6 L87.5,146.5 L88.0,146.4 L88.5,146.3 L89.0,146.2 L89.5,146.1 L90.0,146.0 L90.5,145.9 L91.0,145.8 L91.5,145.7 L92.0,145.6 L92.5,145.5 L93.0,145.4 L93.5,145.3 L94.0,145.2 L94.5,145.1 L95.0,145.0 L95.5,144.9 L96.0,144.8 L96.5,144.7 L97.0,144.6 L97.5,144.5 L98.0,144.4 L98.5,144.4 L99.0,144.3 L99.5,144.2 L100.0,144.1 L100.5,144.0 L101.0,143.9 L101.5,143.8 L102.0,143.8 L102.5,143.7 L103.0,143.6 L103.5,143.5 L104.0,143.4 L104.5,143.3 L105.0,143.3 L105.5,143.2 L106.0,143.1 L106.5,143.0 L107.0,142.9 L107.5,142.8 L108.0,142.7 L108.5,142.6 L109.0,142.6 L109.5,142.5 L110.0,142.4 L110.5,142.3 L111.0,142.2 L111.5,142.1 L112.0,142.0 L112.5,141.9 L113.0,141.8 L113.5,141.7 L114.0,141.6 L114.5,141.5 L115.0,141.4 L115.5,141.3 L116.0,141.2 L116.5,141.1 L117.0,141.0 L117.5,140.9 L118.0,140.8 L118.5,140.6 L119.0,140.5 L119.5,140.4 L120.0,140.3 L120.5,140.2 L121.0,140.1 L121.5,139.9 L122.0,139.8 L122.5,139.7 L123.0,139.6 L123.5,139.4 L124.0,139.3 L124.5,139.2 L125.0,139.0 L125.5,138.9 L126.0,138.8 L126.5,138.6 L127.0,138.5 L127.5,138.4 L128.0,138.2 L128.5,138.1 L129.0,137.9 L129.5,137.8 L130.0,137.6 L130.5,137.5 L131.0,137.3 L131.5,137.2 L132.0,137.0 L132.5,136.9 L133.0,136.7 L133.5,136.5 L134.0,136.4 L134.5,136.2 L135.0,136.0 L135.5,135.8 L136.0,135.7 L136.5,135.5 L137.0,135.3 L137.5,135.1 L138.0,134.9 L138.5,134.7 L139.0,134.5 L139.5,134.3 L140.0,134.1 L140.5,133.9 L141.0,133.7 L141.5,133.5 L142.0,133.3 L142.5,133.0 L143.0,132.8 L143.5,132.6 L144.0,132.4 L144.5,132.2 L145.0,131.9 L145.5,131.7 L146.0,131.5 L146.5,131.2 L147.0,131.0 L147.5,130.7 L148.0,130.4 L148.5,130.1 L149.0,129.8 L149.5,129.5 L150.0,129.1 L150.5,128.8 L151.0,128.4 L151.5,128.0 L152.0,127.6 L152.5,127.2 L153.0,126.8 L153.5,126.4 L154.0,126.0 L154.5,125.6 L155.0,125.1 L155.5,124.7 L156.0,124.3 L156.5,123.9 L157.0,123.5 L157.5,123.0 L158.0,122.6 L158.5,122.2 L159.0,121.8 L159.5,121.3 L160.0,120.9 L160.5,120.5 L161.0,120.1 L161.5,119.7 L162.0,119.3 L162.5,118.9 L163.0,118.5 L163.5,118.1 L164.0,117.7 L164.5,117.3 L165.0,117.0 L165.5,116.6 L166.0,116.2 L166.5,115.8 L167.0,115.5 L167.5,115.1 L168.0,114.7 L168.5,114.4 L169.0,114.0 L169.5,113.6 L170.0,113.3 L170.5,112.9 L171.0,112.6 L171.5,112.2 L172.0,111.8 L172.5,111.5 L173.0,111.1 L173.5,110.7 L174.0,110.4 L174.5,110.0 L175.0,109.6 L175.5,109.3 L176.0,108.9 L176.5,108.5 L177.0,108.2 L177.5,107.8 L178.0,107.5 L178.5,107.2 L179.0,106.9 L179.5,106.5 L180.0,106.2 L180.5,105.9 L181.0,105.7 L181.5,105.4 L182.0,105.1 L182.5,104.9 L183.0,104.6 L183.5,104.4 L184.0,104.1 L184.5,103.9 L185.0,103.6 L185.5,103.4 L186.0,103.2 L186.5,102.9 L187.0,102.7 L187.5,102.5 L188.0,102.2 L188.5,102.0 L189.0,101.8 L189.5,101.5 L190.0,101.3 L190.5,101.0 L191.0,100.7 L191.5,100.5 L192.0,100.3 L192.5,100.0 L193.0,99.8 L193.5,99.6 L194.0,99.4 L194.5,99.2 L195.0,99.0 L195.5,98.8 L196.0,98.7 L196.5,98.6 L197.0,98.5 L197.5,98.4 L198.0,98.3 L198.5,98.2 L199.0,98.1 L199.5,98.1 L200.0,98.0 L200.5,98.0 L201.0,98.0 L201.5,98.0 L202.0,98.0 L202.5,98.0 L203.0,98.0 L203.5,98.1 L204.0,98.1 L204.5,98.1 L205.0,98.2 L205.5,98.3 L206.0,98.4 L206.5,98.5 L207.0,98.6 L207.5,98.8 L208.0,98.9 L208.5,99.1 L209.0,99.4 L209.5,99.6 L210.0,99.9 L210.5,100.2 L211.0,100.5 L211.5,100.8 L212.0,101.2 L212.5,101.6 L213.0,102.0 L213.5,102.4 L214.0,102.8 L214.5,103.3 L215.0,103.8 L215.5,104.3 L216.0,104.8 L216.5,105.4 L217.0,105.9 L217.5,106.5 L218.0,107.1 L218.5,107.8 L219.0,108.4 L219.5,109.1 L220.0,109.8 L220.5,110.5 L221.0,111.2 L221.5,112.0 L222.0,112.7 L222.5,113.5 L223.0,114.4 L223.5,115.2 L224.0,116.0 L224.5,116.9 L225.0,117.8 L225.5,118.7 L226.0,119.6 L226.5,120.5 L227.0,121.4 L227.5,122.3 L228.0,123.2 L228.5,124.2 L229.0,125.1 L229.5,126.0 L230.0,127.0 L230.5,127.9 L231.0,128.8 L231.5,129.8 L232.0,130.7 L232.5,131.6 L233.0,132.5 L233.5,133.5 L234.0,134.4 L234.5,135.3 L235.0,136.2 L235.5,137.1 L236.0,138.0 L236.5,138.9 L237.0,139.8 L237.5,140.7 L238.0,141.6 L238.5,142.5 L239.0,143.4 L239.5,144.3 L240.0,145.2 L240.5,146.1 L241.0,147.1 L241.5,148.0 L242.0,148.9 L242.5,149.8 L243.0,150.7 L243.5,151.6 L244.0,152.4 L244.5,153.3 L245.0,154.0 L245.5,154.8 L246.0,155.5 L246.5,156.2 L247.0,156.8 L247.5,157.4 L248.0,158.0 L248.5,158.6 L249.0,159.1 L249.5,159.6 L250.0,160.0 L250.5,160.4 L251.0,160.8 L251.5,161.2 L252.0,161.5 L252.5,161.8 L253.0,162.1 L253.5,162.3 L254.0,162.5 L254.5,162.7 L255.0,162.9 L255.5,163.1 L256.0,163.2 L256.5,163.4 L257.0,163.5 L257.5,163.6 L258.0,163.7 L258.5,163.8 L259.0,163.9 L259.5,163.9 L260.0,164.0 L260.5,164.1 L261.0,164.1 L261.5,164.2 L262.0,164.2 L262.5,164.2 L263.0,164.3 L263.5,164.3 L264.0,164.3 L264.5,164.4 L265.0,164.4 L265.5,164.4 L266.0,164.5 L266.5,164.5 L267.0,164.5 L267.5,164.5 L268.0,164.6 L268.5,164.6 L269.0,164.6 L269.5,164.6 L270.0,164.6 L270.5,164.6 L271.0,164.6 L271.5,164.7 L272.0,164.7 L272.5,164.7 L273.0,164.7 L273.5,164.7 L274.0,164.7 L274.5,164.7 L275.0,164.7 L275.5,164.7 L276.0,164.7 L276.5,164.7 L277.0,164.7 L277.5,164.7 L278.0,164.7 L278.5,164.7 L279.0,164.7 L279.5,164.7 L280.0,164.7 L280.5,164.7 L281.0,164.7 L281.5,164.7 L282.0,164.7 L282.5,164.7 L283.0,164.6 L283.5,164.6 L284.0,164.6 L284.5,164.6 L285.0,164.6 L285.5,164.6 L286.0,164.6" fill="none" stroke="#ff0000" stroke-width="3.0" stroke-linejoin="round"/>
<path d="M55.5,161.5 L56.0,161.4 L56.5,161.4 L57.0,161.3 L57.5,161.3 L58.0,161.2 L58.5,161.2 L59.0,161.1 L59.5,161.1 L60.0,161.0 L60.5,161.0 L61.0,160.9 L61.5,160.8 L62.0,160.8 L62.5,160.7 L63.0,160.7 L63.5,160.6 L64.0,160.6 L64.5,160.5 L65.0,160.5 L65.5,160.4 L66.0,160.4 L66.5,160.3 L67.0,160.3 L67.5,160.2 L68.0,160.2 L68.5,160.1 L69.0,160.1 L69.5,160.0 L70.0,160.0 L70.5,159.9 L71.0,159.9 L71.5,159.8 L72.0,159.8 L72.5,159.7 L73.0,159.7 L73.5,159.6 L74.0,159.6 L74.5,159.5 L75.0,159.5 L75.5,159.5 L76.0,159.4 L76.5,159.4 L77.0,159.3 L77.5,159.3 L78.0,159.2 L78.5,159.2 L79.0,159.2 L79.5,159.1 L80.0,159.1 L80.5,159.0 L81.0,159.0 L81.5,159.0 L82.0,158.9 L82.5,158.9 L83.0,158.8 L83.5,158.8 L84.0,158.8 L84.5,158.7 L85.0,158.7 L85.5,158.7 L86.0,158.6 L86.5,158.6 L87.0,158.6 L87.5,158.5 L88.0,158.5 L88.5,158.5 L89.0,158.4 L89.5,158.4 L90.0,158.4 L90.5,158.3 L91.0,158.3 L91.5,158.3 L92.0,158.2 L92.5,158.2 L93.0,158.2 L93.5,158.2 L94.0,158.1 L94.5,158.1 L95.0,158.1 L95.5,158.1 L96.0,158.0 L96.5,158.0 L97.0,158.0 L97.5,157.9 L98.0,157.9 L98.5,157.9 L99.0,157.9 L99.5,157.8 L100.0,157.8 L100.5,157.8 L101.0,157.8 L101.5,157.7 L102.0,157.7 L102.5,157.7 L103.0,157.7 L103.5,157.6 L104.0,157.6 L104.5,157.6 L105.0,157.6 L105.5,157.5 L106.0,157.5 L106.5,157.5 L107.0,157.5 L107.5,157.4 L108.0,157.4 L108.5,157.4 L109.0,157.4 L109.5,157.3 L110.0,157.3 L110.5,157.3 L111.0,157.2 L111.5,157.2 L112.0,157.2 L112.5,157.2 L113.0,157.1 L113.5,157.1 L114.0,157.1 L114.5,157.0 L115.0,157.0 L115.5,157.0 L116.0,156.9 L116.5,156.9 L117.0,156.9 L117.5,156.8 L118.0,156.8 L118.5,156.8 L119.0,156.7 L119.5,156.7 L120.0,156.6 L120.5,156.6 L121.0,156.6 L121.5,156.5 L122.0,156.5 L122.5,156.5 L123.0,156.4 L123.5,156.4 L124.0,156.3 L124.5,156.3 L125.0,156.3 L125.5,156.2 L126.0,156.2 L126.5,156.1 L127.0,156.1 L127.5,156.0 L128.0,156.0 L128.5,156.0 L129.0,155.9 L129.5,155.9 L130.0,155.8 L130.5,155.8 L131.0,155.7 L131.5,155.7 L132.0,155.6 L132.5,155.6 L133.0,155.5 L133.5,155.4 L134.0,155.4 L134.5,155.3 L135.0,155.3 L135.5,155.2 L136.0,155.1 L136.5,155.1 L137.0,155.0 L137.5,154.9 L138.0,154.9 L138.5,154.8 L139.0,154.7 L139.5,154.6 L140.0,154.5 L140.5,154.4 L141.0,154.4 L141.5,154.3 L142.0,154.2 L142.5,154.1 L143.0,154.0 L143.5,153.9 L144.0,153.7 L144.5,153.6 L145.0,153.5 L145.5,153.4 L146.0,153.3 L146.5,153.2 L147.0,153.0 L147.5,152.9 L148.0,152.8 L148.5,152.7 L149.0,152.6 L149.5,152.4 L150.0,152.3 L150.5,152.2 L151.0,152.0 L151.5,151.9 L152.0,151.8 L152.5,151.7 L153.0,151.6 L153.5,151.4 L154.0,151.3 L154.5,151.2 L155.0,151.1 L155.5,151.0 L156.0,150.9 L156.5,150.7 L157.0,150.6 L157.5,150.5 L158.0,150.4 L158.5,150.3 L159.0,150.2 L159.5,150.1 L160.0,150.1 L160.5,150.0 L161.0,149.9 L161.5,149.8 L162.0,149.7 L162.5,149.7 L163.0,149.6 L163.5,149.5 L164.0,149.5 L164.5,149.4 L165.0,149.3 L165.5,149.3 L166.0,149.2 L166.5,149.2 L167.0,149.1 L167.5,149.1 L168.0,149.1 L168.5,149.0 L169.0,149.0 L169.5,148.9 L170.0,148.9 L170.5,148.9 L171.0,148.8 L171.5,148.8 L172.0,148.8 L172.5,148.7 L173.0,148.7 L173.5,148.7 L174.0,148.7 L174.5,148.6 L175.0,148.6 L175.5,148.6 L176.0,148.5 L176.5,148.5 L177.0,148.5 L177.5,148.5 L178.0,148.4 L178.5,148.4 L179.0,148.4 L179.5,148.4 L180.0,148.3 L180.5,148.3 L181.0,148.3 L181.5,148.3 L182.0,148.3 L182.5,148.3 L183.0,148.3 L183.5,148.3 L184.0,148.3 L184.5,148.3 L185.0,148.3 L185.5,148.3 L186.0,148.3 L186.5,148.4 L187.0,148.4 L187.5,148.4 L188.0,148.5 L188.5,148.5 L189.0,148.6 L189.5,148.6 L190.0,148.7 L190.5,148.7 L191.0,148.8 L191.5,148.9 L192.0,149.0 L192.5,149.0 L193.0,149.1 L193.5,149.2 L194.0,149.3 L194.5,149.4 L195.0,149.4 L195.5,149.5 L196.0,149.6 L196.5,149.7 L197.0,149.8 L197.5,149.9 L198.0,150.0 L198.5,150.1 L199.0,150.2 L199.5,150.3 L200.0,150.4 L200.5,150.5 L201.0,150.6 L201.5,150.7 L202.0,150.8 L202.5,150.9 L203.0,151.0 L203.5,151.1 L204.0,151.2 L204.5,151.3 L205.0,151.4 L205.5,151.5 L206.0,151.7 L206.5,151.8 L207.0,151.9 L207.5,152.1 L208.0,152.2 L208.5,152.3 L209.0,152.5 L209.5,152.6 L210.0,152.8 L210.5,153.0 L211.0,153.1 L211.5,153.3 L212.0,153.5 L212.5,153.7 L213.0,153.9 L213.5,154.1 L214.0,154.3 L214.5,154.5 L215.0,154.7 L215.5,154.9 L216.0,155.1 L216.5,155.3 L217.0,155.5 L217.5,155.7 L218.0,155.9 L218.5,156.1 L219.0,156.3 L219.5,156.6 L220.0,156.8 L220.5,157.0 L221.0,157.2 L221.5,157.4 L222.0,157.6 L222.5,157.8 L223.0,158.0 L223.5,158.2 L224.0,158.4 L224.5,158.6 L225.0,158.8 L225.5,159.0 L226.0,159.2 L226.5,159.4 L227.0,159.6 L227.5,159.8 L228.0,160.0 L228.5,160.2 L229.0,160.3 L229.5,160.5 L230.0,160.7 L230.5,160.9 L231.0,161.0 L231.5,161.2 L232.0,161.3 L232.5,161.5 L233.0,161.6 L233.5,161.8 L234.0,161.9 L234.5,162.1 L235.0,162.2 L235.5,162.3 L236.0,162.5 L236.5,162.6 L237.0,162.7 L237.5,162.8 L238.0,162.9 L238.5,163.1 L239.0,163.2 L239.5,163.3 L240.0,163.4 L240.5,163.5 L241.0,163.6 L241.5,163.7 L242.0,163.8 L242.5,163.9 L243.0,164.0 L243.5,164.0 L244.0,164.1 L244.5,164.2 L245.0,164.3 L245.5,164.3 L246.0,164.4 L246.5,164.4 L247.0,164.5 L247.5,164.5 L248.0,164.5 L248.5,164.6 L249.0,164.6 L249.5,164.6 L250.0,164.7 L250.5,164.7 L251.0,164.7 L251.5,164.7 L252.0,164.7 L252.5,164.8 L253.0,164.8 L253.5,164.8 L254.0,164.8 L254.5,164.8 L255.0,164.8 L255.5,164.8 L256.0,164.8 L256.5,164.8 L257.0,164.8 L257.5,164.8 L258.0,164.8 L258.5,164.9 L259.0,164.9 L259.5,164.9 L260.0,164.9 L260.5,164.9 L261.0,164.9 L261.5,164.9 L262.0,164.9 L262.5,164.9 L263.0,164.9 L263.5,164.9 L264.0,164.9 L264.5,164.9 L265.0,164.9 L265.5,164.9 L266.0,164.9 L266.5,164.9 L267.0,164.9 L267.5,164.9 L268.0,164.9 L268.5,164.9 L269.0,164.9 L269.5,165.0 L270.0,165.0 L270.5,165.0 L271.0,165.0 L271.5,165.0 L272.0,165.0 L272.5,165.0 L273.0,165.0 L273.5,165.0 L274.0,165.0 L274.5,165.0 L275.0,165.0 L275.5,165.0 L276.0,165.0 L276.5,165.0 L277.0,165.0 L277.5,165.0 L278.0,165.0 L278.5,165.0 L279.0,165.0 L279.5,165.0 L280.0,165.0 L280.5,165.0 L281.0,165.0 L281.5,165.0 L282.0,165.0 L282.5,165.0 L283.0,165.0 L283.5,165.0 L284.0,165.0 L284.5,165.0 L285.0,165.0 L285.5,165.0 L286.0,165.0" fill="none" stroke="#5a9a2a" stroke-width="1.6" stroke-linejoin="round"/>
<text x="0" y="0" font-size="11.5" text-anchor="start" fill="#3a6e6e" transform="translate(59.70 47.80) scale(1 1.08)">Saturation</text>
<text x="0" y="0" font-size="11.5" text-anchor="start" fill="#3a6e6e" transform="translate(78.90 62.40) scale(1 1.08)">I<tspan font-size="8.5" dy="2.7">D</tspan></text>
<text x="0" y="0" font-size="11.5" text-anchor="start" fill="#ff0000" transform="translate(121.60 113.60) scale(1 1.08)">Mobility</text>
<text x="0" y="0" font-size="11.5" text-anchor="start" fill="#6aa03a" transform="translate(167.70 143.00) scale(1 1.08)">Linear I<tspan font-size="8.5" dy="2.7">D</tspan></text>
<text x="0" y="0" font-size="14" text-anchor="start" fill="#3b5e1c" font-weight="bold" transform="translate(212.20 25.50) scale(1 1.08)">L = 30 μm</text>
<text x="0" y="0" font-size="11.5" text-anchor="middle" fill="#8e8e8e" transform="translate(244.50 54.00) scale(1 1.08)">Injected ions</text>
<text x="0" y="0" font-size="11.5" text-anchor="middle" fill="#8e8e8e" transform="translate(243.30 68.40) scale(1 1.08)">(arb.units)</text>
<line x1="162.70" y1="36.90" x2="197.60" y2="36.90" stroke="#4e7e7e" stroke-width="1.4"/>
<path d="M201.50,36.90 L195.00,34.90 L196.62,36.90 L195.00,38.90 Z" fill="#4e7e7e"/>
<line x1="151.40" y1="123.40" x2="128.86" y2="123.40" stroke="#ff0000" stroke-width="1.1"/>
<path d="M124.90,123.40 L131.50,121.50 L129.85,123.40 L131.50,125.30 Z" fill="#ff0000"/>
<line x1="221.70" y1="153.70" x2="259.90" y2="153.70" stroke="#7aaa50" stroke-width="1.4"/>
<path d="M263.80,153.70 L257.30,151.70 L258.93,153.70 L257.30,155.70 Z" fill="#7aaa50"/>
<path d="M403.2,34.5 L403.7,34.5 L404.2,34.5 L404.7,34.5 L405.2,34.5 L405.7,34.5 L406.2,34.5 L406.7,34.5 L407.2,34.5 L407.7,34.5 L408.2,34.5 L408.7,34.5 L409.2,34.5 L409.7,34.6 L410.2,34.6 L410.7,34.6 L411.2,34.6 L411.7,34.6 L412.2,34.6 L412.7,34.6 L413.2,34.6 L413.7,34.6 L414.2,34.6 L414.7,34.6 L415.2,34.6 L415.7,34.6 L416.2,34.6 L416.7,34.6 L417.2,34.6 L417.7,34.6 L418.2,34.6 L418.7,34.7 L419.2,34.7 L419.7,34.7 L420.2,34.7 L420.7,34.7 L421.2,34.7 L421.7,34.7 L422.2,34.7 L422.7,34.7 L423.2,34.7 L423.7,34.7 L424.2,34.7 L424.7,34.7 L425.2,34.8 L425.7,34.8 L426.2,34.8 L426.7,34.8 L427.2,34.8 L427.7,34.8 L428.2,34.8 L428.7,34.8 L429.2,34.8 L429.7,34.9 L430.2,34.9 L430.7,34.9 L431.2,34.9 L431.7,34.9 L432.2,34.9 L432.7,34.9 L433.2,34.9 L433.7,35.0 L434.2,35.0 L434.7,35.0 L435.2,35.0 L435.7,35.0 L436.2,35.0 L436.7,35.1 L437.2,35.1 L437.7,35.1 L438.2,35.1 L438.7,35.1 L439.2,35.1 L439.7,35.2 L440.2,35.2 L440.7,35.2 L441.2,35.2 L441.7,35.2 L442.2,35.3 L442.7,35.3 L443.2,35.3 L443.7,35.3 L444.2,35.3 L444.7,35.4 L445.2,35.4 L445.7,35.4 L446.2,35.4 L446.7,35.5 L447.2,35.5 L447.7,35.5 L448.2,35.5 L448.7,35.6 L449.2,35.6 L449.7,35.6 L450.2,35.6 L450.7,35.7 L451.2,35.7 L451.7,35.7 L452.2,35.7 L452.7,35.8 L453.2,35.8 L453.7,35.8 L454.2,35.8 L454.7,35.9 L455.2,35.9 L455.7,35.9 L456.2,35.9 L456.7,36.0 L457.2,36.0 L457.7,36.0 L458.2,36.1 L458.7,36.1 L459.2,36.1 L459.7,36.1 L460.2,36.2 L460.7,36.2 L461.2,36.2 L461.7,36.3 L462.2,36.3 L462.7,36.3 L463.2,36.4 L463.7,36.4 L464.2,36.4 L464.7,36.5 L465.2,36.5 L465.7,36.5 L466.2,36.6 L466.7,36.6 L467.2,36.6 L467.7,36.6 L468.2,36.7 L468.7,36.7 L469.2,36.7 L469.7,36.8 L470.2,36.8 L470.7,36.8 L471.2,36.9 L471.7,36.9 L472.2,36.9 L472.7,37.0 L473.2,37.0 L473.7,37.1 L474.2,37.1 L474.7,37.1 L475.2,37.2 L475.7,37.2 L476.2,37.2 L476.7,37.3 L477.2,37.3 L477.7,37.4 L478.2,37.4 L478.7,37.5 L479.2,37.5 L479.7,37.6 L480.2,37.6 L480.7,37.6 L481.2,37.7 L481.7,37.8 L482.2,37.8 L482.7,37.9 L483.2,37.9 L483.7,38.0 L484.2,38.0 L484.7,38.1 L485.2,38.2 L485.7,38.2 L486.2,38.3 L486.7,38.4 L487.2,38.5 L487.7,38.5 L488.2,38.6 L488.7,38.7 L489.2,38.8 L489.7,38.9 L490.2,39.0 L490.7,39.0 L491.2,39.1 L491.7,39.2 L492.2,39.3 L492.7,39.4 L493.2,39.5 L493.7,39.7 L494.2,39.8 L494.7,39.9 L495.2,40.0 L495.7,40.1 L496.2,40.2 L496.7,40.4 L497.2,40.5 L497.7,40.6 L498.2,40.8 L498.7,40.9 L499.2,41.1 L499.7,41.2 L500.2,41.4 L500.7,41.5 L501.2,41.7 L501.7,41.9 L502.2,42.0 L502.7,42.2 L503.2,42.4 L503.7,42.6 L504.2,42.8 L504.7,43.0 L505.2,43.2 L505.7,43.4 L506.2,43.6 L506.7,43.8 L507.2,44.0 L507.7,44.3 L508.2,44.5 L508.7,44.7 L509.2,45.0 L509.7,45.2 L510.2,45.5 L510.7,45.8 L511.2,46.0 L511.7,46.3 L512.2,46.6 L512.7,46.9 L513.2,47.2 L513.7,47.5 L514.2,47.9 L514.7,48.2 L515.2,48.6 L515.7,48.9 L516.2,49.3 L516.7,49.7 L517.2,50.1 L517.7,50.5 L518.2,50.9 L518.7,51.3 L519.2,51.8 L519.7,52.3 L520.2,52.7 L520.7,53.2 L521.2,53.7 L521.7,54.2 L522.2,54.7 L522.7,55.3 L523.2,55.8 L523.7,56.3 L524.2,56.9 L524.7,57.4 L525.2,58.0 L525.7,58.5 L526.2,59.0 L526.7,59.6 L527.2,60.1 L527.7,60.6 L528.2,61.2 L528.7,61.7 L529.2,62.2 L529.7,62.7 L530.2,63.2 L530.7,63.7 L531.2,64.2 L531.7,64.7 L532.2,65.2 L532.7,65.7 L533.2,66.2 L533.7,66.7 L534.2,67.2 L534.7,67.7 L535.2,68.2 L535.7,68.7 L536.2,69.2 L536.7,69.7 L537.2,70.1 L537.7,70.6 L538.2,71.1 L538.7,71.6 L539.2,72.1 L539.7,72.6 L540.2,73.1 L540.7,73.5 L541.2,74.0 L541.7,74.5 L542.2,75.0 L542.7,75.5 L543.2,76.0 L543.7,76.5 L544.2,77.0 L544.7,77.5 L545.2,78.0 L545.7,78.5 L546.2,79.0 L546.7,79.5 L547.2,80.1 L547.7,80.6 L548.2,81.1 L548.7,81.6 L549.2,82.2 L549.7,82.7 L550.2,83.3 L550.7,83.8 L551.2,84.4 L551.7,84.9 L552.2,85.5 L552.7,86.0 L553.2,86.6 L553.7,87.2 L554.2,87.7 L554.7,88.3 L555.2,88.9 L555.7,89.4 L556.2,90.0 L556.7,90.6 L557.2,91.2 L557.7,91.7 L558.2,92.3 L558.7,92.9 L559.2,93.5 L559.7,94.1 L560.2,94.6 L560.7,95.2 L561.2,95.8 L561.7,96.4 L562.2,97.0 L562.7,97.5 L563.2,98.1 L563.7,98.7 L564.2,99.3 L564.7,99.8 L565.2,100.4 L565.7,101.0 L566.2,101.6 L566.7,102.1 L567.2,102.7 L567.7,103.3 L568.2,103.9 L568.7,104.4 L569.2,105.0 L569.7,105.6 L570.2,106.1 L570.7,106.7 L571.2,107.2 L571.7,107.8 L572.2,108.4 L572.7,108.9 L573.2,109.5 L573.7,110.0 L574.2,110.6 L574.7,111.1 L575.2,111.7 L575.7,112.2 L576.2,112.7 L576.7,113.3 L577.2,113.8 L577.7,114.4 L578.2,114.9 L578.7,115.4 L579.2,116.0 L579.7,116.5 L580.2,117.0 L580.7,117.5 L581.2,118.1 L581.7,118.6 L582.2,119.1 L582.7,119.6 L583.2,120.2 L583.7,120.7 L584.2,121.2 L584.7,121.8 L585.2,122.3 L585.7,122.9 L586.2,123.4 L586.7,124.0 L587.2,124.5 L587.7,125.1 L588.2,125.6 L588.7,126.2 L589.2,126.8 L589.7,127.4 L590.2,128.0 L590.7,128.6 L591.2,129.2 L591.7,129.8 L592.2,130.4 L592.7,131.1 L593.2,131.7 L593.7,132.4 L594.2,133.0 L594.7,133.7 L595.2,134.4 L595.7,135.1 L596.2,135.8 L596.7,136.5 L597.2,137.2 L597.7,137.9 L598.2,138.6 L598.7,139.3 L599.2,139.9 L599.7,140.6 L600.2,141.3 L600.7,142.0 L601.2,142.7 L601.7,143.3 L602.2,144.0 L602.7,144.6 L603.2,145.3 L603.7,145.9 L604.2,146.5 L604.7,147.1 L605.2,147.6 L605.7,148.2 L606.2,148.7 L606.7,149.2 L607.2,149.7 L607.7,150.2 L608.2,150.7 L608.7,151.2 L609.2,151.6 L609.7,152.0 L610.2,152.4 L610.7,152.9 L611.2,153.3 L611.7,153.6 L612.2,154.0 L612.7,154.4 L613.2,154.7 L613.7,155.1 L614.2,155.4 L614.7,155.8 L615.2,156.1 L615.7,156.4 L616.2,156.7 L616.7,157.1 L617.2,157.4 L617.7,157.7 L618.2,158.0 L618.7,158.3 L619.2,158.5 L619.7,158.8 L620.2,159.1 L620.7,159.4 L621.2,159.6 L621.7,159.9 L622.2,160.2 L622.7,160.4 L623.2,160.7 L623.7,160.9 L624.2,161.1 L624.7,161.3 L625.2,161.5 L625.7,161.8 L626.2,162.0 L626.7,162.1 L627.2,162.3 L627.7,162.5 L628.2,162.7 L628.7,162.8 L629.2,163.0 L629.7,163.1 L630.2,163.3 L630.7,163.4 L631.2,163.5 L631.7,163.7 L632.2,163.8 L632.7,163.9 L633.0,164.0" fill="none" stroke="#888888" stroke-width="2.0" stroke-dasharray="4.6 3.4" stroke-linejoin="round"/>
<path d="M403.2,23.1 L403.7,23.9 L404.2,24.7 L404.7,25.4 L405.2,26.2 L405.7,26.8 L406.2,27.5 L406.7,28.1 L407.2,28.6 L407.7,29.1 L408.2,29.6 L408.7,30.0 L409.2,30.4 L409.7,30.8 L410.2,31.2 L410.7,31.6 L411.2,32.0 L411.7,32.3 L412.2,32.7 L412.7,33.0 L413.2,33.4 L413.7,33.7 L414.2,34.0 L414.7,34.3 L415.2,34.7 L415.7,35.0 L416.2,35.4 L416.7,35.7 L417.2,36.1 L417.7,36.5 L418.2,36.8 L418.7,37.2 L419.2,37.6 L419.7,38.0 L420.2,38.3 L420.7,38.7 L421.2,39.1 L421.7,39.5 L422.2,39.8 L422.7,40.2 L423.2,40.6 L423.7,41.0 L424.2,41.4 L424.7,41.7 L425.2,42.1 L425.7,42.5 L426.2,42.9 L426.7,43.3 L427.2,43.6 L427.7,44.0 L428.2,44.4 L428.7,44.8 L429.2,45.1 L429.7,45.5 L430.2,45.9 L430.7,46.2 L431.2,46.6 L431.7,47.0 L432.2,47.4 L432.7,47.7 L433.2,48.1 L433.7,48.5 L434.2,48.8 L434.7,49.2 L435.2,49.5 L435.7,49.9 L436.2,50.3 L436.7,50.6 L437.2,51.0 L437.7,51.3 L438.2,51.7 L438.7,52.0 L439.2,52.4 L439.7,52.7 L440.2,53.1 L440.7,53.4 L441.2,53.8 L441.7,54.1 L442.2,54.5 L442.7,54.8 L443.2,55.1 L443.7,55.5 L444.2,55.8 L444.7,56.2 L445.2,56.5 L445.7,56.9 L446.2,57.2 L446.7,57.5 L447.2,57.9 L447.7,58.2 L448.2,58.6 L448.7,58.9 L449.2,59.3 L449.7,59.6 L450.2,60.0 L450.7,60.3 L451.2,60.7 L451.7,61.1 L452.2,61.4 L452.7,61.8 L453.2,62.1 L453.7,62.5 L454.2,62.8 L454.7,63.2 L455.2,63.6 L455.7,63.9 L456.2,64.3 L456.7,64.6 L457.2,65.0 L457.7,65.3 L458.2,65.7 L458.7,66.0 L459.2,66.4 L459.7,66.8 L460.2,67.1 L460.7,67.5 L461.2,67.8 L461.7,68.2 L462.2,68.6 L462.7,68.9 L463.2,69.3 L463.7,69.7 L464.2,70.0 L464.7,70.4 L465.2,70.8 L465.7,71.2 L466.2,71.6 L466.7,72.0 L467.2,72.4 L467.7,72.8 L468.2,73.2 L468.7,73.6 L469.2,74.0 L469.7,74.5 L470.2,74.9 L470.7,75.3 L471.2,75.8 L471.7,76.2 L472.2,76.7 L472.7,77.2 L473.2,77.7 L473.7,78.1 L474.2,78.6 L474.7,79.1 L475.2,79.7 L475.7,80.2 L476.2,80.7 L476.7,81.2 L477.2,81.7 L477.7,82.2 L478.2,82.8 L478.7,83.3 L479.2,83.8 L479.7,84.4 L480.2,84.9 L480.7,85.4 L481.2,86.0 L481.7,86.5 L482.2,87.1 L482.7,87.7 L483.2,88.3 L483.7,88.8 L484.2,89.4 L484.7,90.0 L485.2,90.6 L485.7,91.2 L486.2,91.9 L486.7,92.5 L487.2,93.2 L487.7,93.8 L488.2,94.6 L488.7,95.3 L489.2,96.1 L489.7,97.0 L490.2,97.9 L490.7,98.8 L491.2,99.7 L491.7,100.7 L492.2,101.7 L492.7,102.6 L493.2,103.5 L493.7,104.4 L494.2,105.3 L494.7,106.2 L495.2,107.1 L495.7,108.0 L496.2,108.9 L496.7,109.8 L497.2,110.6 L497.7,111.5 L498.2,112.3 L498.7,113.2 L499.2,114.0 L499.7,114.8 L500.2,115.6 L500.7,116.4 L501.2,117.2 L501.7,118.0 L502.2,118.8 L502.7,119.6 L503.2,120.4 L503.7,121.2 L504.2,121.9 L504.7,122.7 L505.2,123.5 L505.7,124.3 L506.2,125.0 L506.7,125.8 L507.2,126.5 L507.7,127.2 L508.2,128.0 L508.7,128.7 L509.2,129.4 L509.7,130.0 L510.2,130.7 L510.7,131.4 L511.2,132.0 L511.7,132.7 L512.2,133.3 L512.7,134.0 L513.2,134.6 L513.7,135.2 L514.2,135.8 L514.7,136.5 L515.2,137.1 L515.7,137.7 L516.2,138.3 L516.7,138.8 L517.2,139.4 L517.7,140.0 L518.2,140.6 L518.7,141.1 L519.2,141.7 L519.7,142.2 L520.2,142.7 L520.7,143.3 L521.2,143.8 L521.7,144.3 L522.2,144.8 L522.7,145.3 L523.2,145.8 L523.7,146.3 L524.2,146.7 L524.7,147.2 L525.2,147.7 L525.7,148.2 L526.2,148.7 L526.7,149.1 L527.2,149.6 L527.7,150.1 L528.2,150.5 L528.7,151.0 L529.2,151.4 L529.7,151.9 L530.2,152.3 L530.7,152.7 L531.2,153.2 L531.7,153.6 L532.2,154.0 L532.7,154.4 L533.2,154.8 L533.7,155.2 L534.2,155.6 L534.7,155.9 L535.2,156.3 L535.7,156.6 L536.2,156.9 L536.7,157.2 L537.2,157.5 L537.7,157.7 L538.2,158.0 L538.7,158.2 L539.2,158.4 L539.7,158.7 L540.2,158.9 L540.7,159.1 L541.2,159.4 L541.7,159.6 L542.2,159.8 L542.7,160.1 L543.2,160.3 L543.7,160.5 L544.2,160.7 L544.7,161.0 L545.2,161.2 L545.7,161.4 L546.2,161.5 L546.7,161.7 L547.2,161.9 L547.7,162.0 L548.2,162.1 L548.7,162.3 L549.2,162.4 L549.7,162.5 L550.2,162.6 L550.7,162.7 L551.2,162.8 L551.7,162.9 L552.2,163.0 L552.7,163.1 L553.2,163.2 L553.7,163.3 L554.2,163.4 L554.7,163.4 L555.2,163.5 L555.7,163.5 L556.2,163.6 L556.7,163.6 L557.2,163.7 L557.7,163.7 L558.2,163.8 L558.7,163.8 L559.2,163.9 L559.7,163.9 L560.2,164.0 L560.7,164.0 L561.2,164.0 L561.7,164.0 L562.2,164.1 L562.7,164.1 L563.2,164.1 L563.7,164.1 L564.2,164.1 L564.7,164.1 L565.2,164.1 L565.7,164.2 L566.2,164.2 L566.7,164.2 L567.2,164.2 L567.7,164.2 L568.2,164.2 L568.7,164.2 L569.2,164.2 L569.7,164.2 L570.2,164.2 L570.7,164.2 L571.2,164.3 L571.7,164.3 L572.2,164.3 L572.7,164.3 L573.2,164.3 L573.7,164.3 L574.2,164.3 L574.7,164.3 L575.2,164.3 L575.7,164.3 L576.2,164.3 L576.7,164.3 L577.2,164.3 L577.7,164.3 L578.2,164.3 L578.7,164.4 L579.2,164.4 L579.7,164.4 L580.2,164.4 L580.7,164.4 L581.2,164.4 L581.7,164.4 L582.2,164.4 L582.7,164.4 L583.2,164.4 L583.7,164.4 L584.2,164.4 L584.7,164.4 L585.2,164.4 L585.7,164.4 L586.2,164.4 L586.7,164.4 L587.2,164.4 L587.7,164.4 L588.2,164.4 L588.7,164.4 L589.2,164.4 L589.7,164.4 L590.2,164.4 L590.7,164.5 L591.2,164.5 L591.7,164.5 L592.2,164.5 L592.7,164.5 L593.2,164.5 L593.7,164.5 L594.2,164.5 L594.7,164.5 L595.2,164.5 L595.7,164.5 L596.2,164.5 L596.7,164.5 L597.2,164.5 L597.7,164.5 L598.2,164.5 L598.7,164.5 L599.2,164.5 L599.7,164.5 L600.2,164.5 L600.7,164.5 L601.2,164.5 L601.7,164.5 L602.2,164.5 L602.7,164.5 L603.2,164.5 L603.7,164.5 L604.2,164.5 L604.7,164.5 L605.2,164.5 L605.7,164.5 L606.2,164.5 L606.7,164.5 L607.2,164.5 L607.7,164.5 L608.2,164.5 L608.7,164.5 L609.2,164.5 L609.7,164.5 L610.2,164.5 L610.7,164.5 L611.2,164.5 L611.7,164.6 L612.2,164.6 L612.7,164.6 L613.2,164.6 L613.7,164.6 L614.2,164.6 L614.7,164.6 L615.2,164.6 L615.7,164.6 L616.2,164.6 L616.7,164.6 L617.2,164.6 L617.7,164.6 L618.2,164.6 L618.7,164.6 L619.2,164.6 L619.7,164.6 L620.2,164.6 L620.7,164.6 L621.2,164.6 L621.7,164.6 L622.2,164.6 L622.7,164.6 L623.2,164.6 L623.7,164.6 L624.2,164.6 L624.7,164.6 L625.2,164.6 L625.7,164.6 L626.2,164.6 L626.7,164.6 L627.2,164.6 L627.7,164.6 L628.2,164.6 L628.7,164.6 L629.2,164.6 L629.7,164.6 L630.2,164.6 L630.7,164.6 L631.2,164.6 L631.7,164.6 L632.2,164.6 L632.7,164.6 L633.0,164.6" fill="none" stroke="#0c0c8c" stroke-width="1.6" stroke-linejoin="round"/>
<path d="M403.2,60.8 L403.7,61.1 L404.2,61.3 L404.7,61.6 L405.2,61.8 L405.7,62.1 L406.2,62.3 L406.7,62.6 L407.2,62.8 L407.7,63.1 L408.2,63.3 L408.7,63.6 L409.2,63.8 L409.7,64.0 L410.2,64.3 L410.7,64.5 L411.2,64.8 L411.7,65.0 L412.2,65.3 L412.7,65.5 L413.2,65.8 L413.7,66.0 L414.2,66.2 L414.7,66.5 L415.2,66.7 L415.7,66.9 L416.2,67.2 L416.7,67.4 L417.2,67.7 L417.7,67.9 L418.2,68.1 L418.7,68.4 L419.2,68.6 L419.7,68.8 L420.2,69.1 L420.7,69.3 L421.2,69.5 L421.7,69.7 L422.2,70.0 L422.7,70.2 L423.2,70.4 L423.7,70.6 L424.2,70.9 L424.7,71.1 L425.2,71.3 L425.7,71.5 L426.2,71.8 L426.7,72.0 L427.2,72.2 L427.7,72.4 L428.2,72.7 L428.7,72.9 L429.2,73.1 L429.7,73.3 L430.2,73.6 L430.7,73.8 L431.2,74.0 L431.7,74.2 L432.2,74.4 L432.7,74.7 L433.2,74.9 L433.7,75.1 L434.2,75.3 L434.7,75.6 L435.2,75.8 L435.7,76.0 L436.2,76.2 L436.7,76.5 L437.2,76.7 L437.7,76.9 L438.2,77.1 L438.7,77.4 L439.2,77.6 L439.7,77.8 L440.2,78.0 L440.7,78.3 L441.2,78.5 L441.7,78.7 L442.2,78.9 L442.7,79.2 L443.2,79.4 L443.7,79.6 L444.2,79.8 L444.7,80.1 L445.2,80.3 L445.7,80.5 L446.2,80.7 L446.7,81.0 L447.2,81.2 L447.7,81.4 L448.2,81.6 L448.7,81.9 L449.2,82.1 L449.7,82.3 L450.2,82.5 L450.7,82.8 L451.2,83.0 L451.7,83.2 L452.2,83.4 L452.7,83.6 L453.2,83.9 L453.7,84.1 L454.2,84.3 L454.7,84.5 L455.2,84.7 L455.7,85.0 L456.2,85.2 L456.7,85.4 L457.2,85.6 L457.7,85.8 L458.2,86.0 L458.7,86.3 L459.2,86.5 L459.7,86.7 L460.2,86.9 L460.7,87.1 L461.2,87.3 L461.7,87.6 L462.2,87.8 L462.7,88.0 L463.2,88.2 L463.7,88.4 L464.2,88.6 L464.7,88.8 L465.2,89.1 L465.7,89.3 L466.2,89.5 L466.7,89.7 L467.2,89.9 L467.7,90.1 L468.2,90.4 L468.7,90.6 L469.2,90.8 L469.7,91.0 L470.2,91.2 L470.7,91.5 L471.2,91.7 L471.7,91.9 L472.2,92.1 L472.7,92.3 L473.2,92.5 L473.7,92.7 L474.2,92.9 L474.7,93.2 L475.2,93.4 L475.7,93.6 L476.2,93.8 L476.7,94.0 L477.2,94.2 L477.7,94.5 L478.2,94.7 L478.7,95.0 L479.2,95.2 L479.7,95.4 L480.2,95.7 L480.7,96.0 L481.2,96.3 L481.7,96.5 L482.2,96.8 L482.7,97.1 L483.2,97.4 L483.7,97.8 L484.2,98.1 L484.7,98.4 L485.2,98.7 L485.7,99.0 L486.2,99.3 L486.7,99.6 L487.2,99.9 L487.7,100.2 L488.2,100.5 L488.7,100.9 L489.2,101.2 L489.7,101.5 L490.2,101.8 L490.7,102.2 L491.2,102.5 L491.7,102.9 L492.2,103.3 L492.7,103.6 L493.2,104.0 L493.7,104.4 L494.2,104.8 L494.7,105.3 L495.2,105.7 L495.7,106.1 L496.2,106.6 L496.7,107.0 L497.2,107.5 L497.7,108.0 L498.2,108.5 L498.7,109.0 L499.2,109.5 L499.7,110.0 L500.2,110.6 L500.7,111.1 L501.2,111.7 L501.7,112.2 L502.2,112.8 L502.7,113.4 L503.2,114.0 L503.7,114.6 L504.2,115.2 L504.7,115.9 L505.2,116.5 L505.7,117.1 L506.2,117.8 L506.7,118.4 L507.2,119.1 L507.7,119.7 L508.2,120.4 L508.7,121.0 L509.2,121.6 L509.7,122.3 L510.2,122.9 L510.7,123.6 L511.2,124.2 L511.7,124.8 L512.2,125.4 L512.7,126.1 L513.2,126.7 L513.7,127.3 L514.2,127.8 L514.7,128.4 L515.2,129.0 L515.7,129.5 L516.2,130.0 L516.7,130.6 L517.2,131.1 L517.7,131.6 L518.2,132.1 L518.7,132.7 L519.2,133.2 L519.7,133.7 L520.2,134.2 L520.7,134.7 L521.2,135.2 L521.7,135.7 L522.2,136.2 L522.7,136.7 L523.2,137.2 L523.7,137.7 L524.2,138.2 L524.7,138.7 L525.2,139.2 L525.7,139.7 L526.2,140.2 L526.7,140.7 L527.2,141.2 L527.7,141.7 L528.2,142.2 L528.7,142.7 L529.2,143.1 L529.7,143.6 L530.2,144.1 L530.7,144.5 L531.2,145.0 L531.7,145.4 L532.2,145.8 L532.7,146.2 L533.2,146.7 L533.7,147.1 L534.2,147.5 L534.7,147.9 L535.2,148.3 L535.7,148.7 L536.2,149.1 L536.7,149.5 L537.2,149.9 L537.7,150.4 L538.2,150.8 L538.7,151.3 L539.2,151.8 L539.7,152.2 L540.2,152.6 L540.7,153.0 L541.2,153.4 L541.7,153.8 L542.2,154.1 L542.7,154.5 L543.2,154.8 L543.7,155.1 L544.2,155.4 L544.7,155.7 L545.2,156.0 L545.7,156.3 L546.2,156.6 L546.7,156.8 L547.2,157.1 L547.7,157.4 L548.2,157.7 L548.7,157.9 L549.2,158.2 L549.7,158.5 L550.2,158.7 L550.7,159.0 L551.2,159.2 L551.7,159.5 L552.2,159.7 L552.7,159.9 L553.2,160.1 L553.7,160.3 L554.2,160.5 L554.7,160.7 L555.2,160.9 L555.7,161.0 L556.2,161.2 L556.7,161.4 L557.2,161.5 L557.7,161.6 L558.2,161.8 L558.7,161.9 L559.2,162.0 L559.7,162.1 L560.2,162.2 L560.7,162.3 L561.2,162.4 L561.7,162.5 L562.2,162.6 L562.7,162.7 L563.2,162.8 L563.7,162.9 L564.2,163.0 L564.7,163.0 L565.2,163.1 L565.7,163.2 L566.2,163.2 L566.7,163.3 L567.2,163.4 L567.7,163.4 L568.2,163.5 L568.7,163.5 L569.2,163.6 L569.7,163.6 L570.2,163.7 L570.7,163.7 L571.2,163.8 L571.7,163.8 L572.2,163.8 L572.7,163.9 L573.2,163.9 L573.7,163.9 L574.2,163.9 L574.7,163.9 L575.2,164.0 L575.7,164.0 L576.2,164.0 L576.7,164.0 L577.2,164.0 L577.7,164.1 L578.2,164.1 L578.7,164.1 L579.2,164.1 L579.7,164.1 L580.2,164.1 L580.7,164.1 L581.2,164.2 L581.7,164.2 L582.2,164.2 L582.7,164.2 L583.2,164.2 L583.7,164.2 L584.2,164.2 L584.7,164.2 L585.2,164.2 L585.7,164.2 L586.2,164.3 L586.7,164.3 L587.2,164.3 L587.7,164.3 L588.2,164.3 L588.7,164.3 L589.2,164.3 L589.7,164.3 L590.2,164.3 L590.7,164.3 L591.2,164.3 L591.7,164.3 L592.2,164.3 L592.7,164.3 L593.2,164.3 L593.7,164.3 L594.2,164.3 L594.7,164.3 L595.2,164.3 L595.7,164.3 L596.2,164.4 L596.7,164.4 L597.2,164.4 L597.7,164.4 L598.2,164.4 L598.7,164.4 L599.2,164.4 L599.7,164.4 L600.2,164.4 L600.7,164.4 L601.2,164.4 L601.7,164.4 L602.2,164.4 L602.7,164.4 L603.2,164.4 L603.7,164.4 L604.2,164.4 L604.7,164.4 L605.2,164.4 L605.7,164.4 L606.2,164.4 L606.7,164.4 L607.2,164.4 L607.7,164.4 L608.2,164.4 L608.7,164.4 L609.2,164.4 L609.7,164.4 L610.2,164.4 L610.7,164.4 L611.2,164.4 L611.7,164.4 L612.2,164.4 L612.7,164.5 L613.2,164.5 L613.7,164.5 L614.2,164.5 L614.7,164.5 L615.2,164.5 L615.7,164.5 L616.2,164.5 L616.7,164.5 L617.2,164.5 L617.7,164.5 L618.2,164.5 L618.7,164.5 L619.2,164.5 L619.7,164.5 L620.2,164.5 L620.7,164.5 L621.2,164.5 L621.7,164.5 L622.2,164.5 L622.7,164.5 L623.2,164.5 L623.7,164.5 L624.2,164.5 L624.7,164.5 L625.2,164.5 L625.7,164.5 L626.2,164.5 L626.7,164.5 L627.2,164.5 L627.7,164.5 L628.2,164.5 L628.7,164.5 L629.2,164.5 L629.7,164.5 L630.2,164.5 L630.7,164.5 L631.2,164.5 L631.7,164.5 L632.2,164.5 L632.7,164.5 L633.0,164.5" fill="none" stroke="#ff0000" stroke-width="3.0" stroke-linejoin="round"/>
<path d="M403.2,108.0 L403.7,108.1 L404.2,108.3 L404.7,108.4 L405.2,108.5 L405.7,108.7 L406.2,108.8 L406.7,108.9 L407.2,109.1 L407.7,109.2 L408.2,109.3 L408.7,109.5 L409.2,109.6 L409.7,109.7 L410.2,109.9 L410.7,110.0 L411.2,110.1 L411.7,110.3 L412.2,110.4 L412.7,110.5 L413.2,110.7 L413.7,110.8 L414.2,110.9 L414.7,111.1 L415.2,111.2 L415.7,111.3 L416.2,111.5 L416.7,111.6 L417.2,111.7 L417.7,111.9 L418.2,112.0 L418.7,112.1 L419.2,112.3 L419.7,112.4 L420.2,112.5 L420.7,112.7 L421.2,112.8 L421.7,112.9 L422.2,113.1 L422.7,113.2 L423.2,113.4 L423.7,113.5 L424.2,113.6 L424.7,113.8 L425.2,113.9 L425.7,114.0 L426.2,114.2 L426.7,114.3 L427.2,114.4 L427.7,114.6 L428.2,114.7 L428.7,114.9 L429.2,115.0 L429.7,115.1 L430.2,115.3 L430.7,115.4 L431.2,115.5 L431.7,115.7 L432.2,115.8 L432.7,116.0 L433.2,116.1 L433.7,116.2 L434.2,116.4 L434.7,116.5 L435.2,116.6 L435.7,116.8 L436.2,116.9 L436.7,117.1 L437.2,117.2 L437.7,117.3 L438.2,117.5 L438.7,117.6 L439.2,117.8 L439.7,117.9 L440.2,118.0 L440.7,118.2 L441.2,118.3 L441.7,118.5 L442.2,118.6 L442.7,118.7 L443.2,118.9 L443.7,119.0 L444.2,119.2 L444.7,119.3 L445.2,119.4 L445.7,119.6 L446.2,119.7 L446.7,119.8 L447.2,120.0 L447.7,120.1 L448.2,120.3 L448.7,120.4 L449.2,120.5 L449.7,120.7 L450.2,120.8 L450.7,121.0 L451.2,121.1 L451.7,121.2 L452.2,121.4 L452.7,121.5 L453.2,121.7 L453.7,121.8 L454.2,122.0 L454.7,122.1 L455.2,122.2 L455.7,122.4 L456.2,122.5 L456.7,122.7 L457.2,122.8 L457.7,123.0 L458.2,123.1 L458.7,123.3 L459.2,123.4 L459.7,123.6 L460.2,123.7 L460.7,123.9 L461.2,124.0 L461.7,124.2 L462.2,124.3 L462.7,124.5 L463.2,124.6 L463.7,124.8 L464.2,124.9 L464.7,125.1 L465.2,125.2 L465.7,125.3 L466.2,125.5 L466.7,125.6 L467.2,125.7 L467.7,125.9 L468.2,126.0 L468.7,126.1 L469.2,126.2 L469.7,126.3 L470.2,126.4 L470.7,126.6 L471.2,126.7 L471.7,126.8 L472.2,126.9 L472.7,127.0 L473.2,127.0 L473.7,127.1 L474.2,127.2 L474.7,127.3 L475.2,127.4 L475.7,127.5 L476.2,127.6 L476.7,127.7 L477.2,127.8 L477.7,127.9 L478.2,127.9 L478.7,128.0 L479.2,128.1 L479.7,128.2 L480.2,128.3 L480.7,128.4 L481.2,128.5 L481.7,128.6 L482.2,128.7 L482.7,128.8 L483.2,129.0 L483.7,129.1 L484.2,129.2 L484.7,129.3 L485.2,129.4 L485.7,129.5 L486.2,129.6 L486.7,129.7 L487.2,129.8 L487.7,130.0 L488.2,130.1 L488.7,130.2 L489.2,130.3 L489.7,130.5 L490.2,130.6 L490.7,130.8 L491.2,130.9 L491.7,131.1 L492.2,131.2 L492.7,131.4 L493.2,131.6 L493.7,131.7 L494.2,131.9 L494.7,132.1 L495.2,132.3 L495.7,132.5 L496.2,132.7 L496.7,132.9 L497.2,133.1 L497.7,133.3 L498.2,133.6 L498.7,133.8 L499.2,134.1 L499.7,134.3 L500.2,134.6 L500.7,134.9 L501.2,135.3 L501.7,135.6 L502.2,136.0 L502.7,136.4 L503.2,136.8 L503.7,137.1 L504.2,137.5 L504.7,137.9 L505.2,138.4 L505.7,138.8 L506.2,139.2 L506.7,139.6 L507.2,140.0 L507.7,140.4 L508.2,140.8 L508.7,141.3 L509.2,141.7 L509.7,142.2 L510.2,142.7 L510.7,143.1 L511.2,143.6 L511.7,144.0 L512.2,144.5 L512.7,144.9 L513.2,145.3 L513.7,145.8 L514.2,146.2 L514.7,146.6 L515.2,146.9 L515.7,147.3 L516.2,147.7 L516.7,148.1 L517.2,148.5 L517.7,148.8 L518.2,149.2 L518.7,149.5 L519.2,149.9 L519.7,150.2 L520.2,150.6 L520.7,150.9 L521.2,151.2 L521.7,151.6 L522.2,151.9 L522.7,152.2 L523.2,152.5 L523.7,152.8 L524.2,153.1 L524.7,153.4 L525.2,153.7 L525.7,154.0 L526.2,154.3 L526.7,154.5 L527.2,154.8 L527.7,155.0 L528.2,155.3 L528.7,155.5 L529.2,155.8 L529.7,156.0 L530.2,156.2 L530.7,156.4 L531.2,156.6 L531.7,156.8 L532.2,157.1 L532.7,157.3 L533.2,157.5 L533.7,157.7 L534.2,157.9 L534.7,158.1 L535.2,158.3 L535.7,158.5 L536.2,158.7 L536.7,158.9 L537.2,159.2 L537.7,159.4 L538.2,159.6 L538.7,159.8 L539.2,160.0 L539.7,160.2 L540.2,160.4 L540.7,160.6 L541.2,160.8 L541.7,160.9 L542.2,161.1 L542.7,161.2 L543.2,161.4 L543.7,161.5 L544.2,161.6 L544.7,161.8 L545.2,161.9 L545.7,162.0 L546.2,162.2 L546.7,162.3 L547.2,162.4 L547.7,162.5 L548.2,162.6 L548.7,162.7 L549.2,162.8 L549.7,162.8 L550.2,162.9 L550.7,163.0 L551.2,163.1 L551.7,163.2 L552.2,163.2 L552.7,163.3 L553.2,163.4 L553.7,163.5 L554.2,163.5 L554.7,163.6 L555.2,163.6 L555.7,163.7 L556.2,163.7 L556.7,163.7 L557.2,163.7 L557.7,163.8 L558.2,163.8 L558.7,163.8 L559.2,163.8 L559.7,163.8 L560.2,163.9 L560.7,163.9 L561.2,163.9 L561.7,163.9 L562.2,163.9 L562.7,164.0 L563.2,164.0 L563.7,164.0 L564.2,164.0 L564.7,164.0 L565.2,164.1 L565.7,164.1 L566.2,164.1 L566.7,164.1 L567.2,164.1 L567.7,164.1 L568.2,164.1 L568.7,164.2 L569.2,164.2 L569.7,164.2 L570.2,164.2 L570.7,164.2 L571.2,164.2 L571.7,164.2 L572.2,164.3 L572.7,164.3 L573.2,164.3 L573.7,164.3 L574.2,164.3 L574.7,164.3 L575.2,164.3 L575.7,164.3 L576.2,164.3 L576.7,164.4 L577.2,164.4 L577.7,164.4 L578.2,164.4 L578.7,164.4 L579.2,164.4 L579.7,164.4 L580.2,164.4 L580.7,164.4 L581.2,164.4 L581.7,164.4 L582.2,164.4 L582.7,164.4 L583.2,164.4 L583.7,164.5 L584.2,164.5 L584.7,164.5 L585.2,164.5 L585.7,164.5 L586.2,164.5 L586.7,164.5 L587.2,164.5 L587.7,164.5 L588.2,164.5 L588.7,164.5 L589.2,164.5 L589.7,164.5 L590.2,164.5 L590.7,164.5 L591.2,164.5 L591.7,164.5 L592.2,164.5 L592.7,164.5 L593.2,164.5 L593.7,164.5 L594.2,164.5 L594.7,164.5 L595.2,164.5 L595.7,164.5 L596.2,164.5 L596.7,164.5 L597.2,164.5 L597.7,164.5 L598.2,164.5 L598.7,164.5 L599.2,164.5 L599.7,164.5 L600.2,164.5 L600.7,164.5 L601.2,164.5 L601.7,164.5 L602.2,164.5 L602.7,164.5 L603.2,164.6 L603.7,164.6 L604.2,164.6 L604.7,164.6 L605.2,164.6 L605.7,164.6 L606.2,164.6 L606.7,164.6 L607.2,164.6 L607.7,164.6 L608.2,164.6 L608.7,164.6 L609.2,164.6 L609.7,164.6 L610.2,164.6 L610.7,164.6 L611.2,164.6 L611.7,164.6 L612.2,164.6 L612.7,164.6 L613.2,164.6 L613.7,164.6 L614.2,164.6 L614.7,164.6 L615.2,164.6 L615.7,164.6 L616.2,164.6 L616.7,164.6 L617.2,164.6 L617.7,164.6 L618.2,164.6 L618.7,164.6 L619.2,164.6 L619.7,164.6 L620.2,164.6 L620.7,164.6 L621.2,164.6 L621.7,164.6 L622.2,164.6 L622.7,164.6 L623.2,164.6 L623.7,164.6 L624.2,164.6 L624.7,164.6 L625.2,164.6 L625.7,164.6 L626.2,164.6 L626.7,164.6 L627.2,164.6 L627.7,164.6 L628.2,164.6 L628.7,164.6 L629.2,164.6 L629.7,164.6 L630.2,164.6 L630.7,164.6 L631.2,164.6 L631.7,164.6 L632.2,164.6 L632.7,164.6 L633.0,164.6" fill="none" stroke="#3d88c8" stroke-width="1.5" stroke-linejoin="round"/>
<text x="0" y="0" font-size="14" text-anchor="start" fill="#1a2f6e" font-weight="bold" transform="translate(550.80 25.20) scale(1 1.08)">L = 250 μm</text>
<text x="0" y="0" font-size="11.5" text-anchor="start" fill="#1a1a9a" transform="translate(468.00 68.70) scale(1 1.08)">Saturation</text>
<text x="0" y="0" font-size="11.5" text-anchor="start" fill="#1a1a9a" transform="translate(487.00 82.70) scale(1 1.08)">I<tspan font-size="8.5" dy="2.5">D</tspan></text>
<text x="0" y="0" font-size="11.5" text-anchor="start" fill="#8e8e8e" transform="translate(553.30 52.60) scale(1 1.08)">Injected</text>
<text x="0" y="0" font-size="11.5" text-anchor="start" fill="#8e8e8e" transform="translate(549.90 66.80) scale(1 1.08)">ions (arb.units)</text>
<text x="0" y="0" font-size="11.5" text-anchor="start" fill="#ff0000" transform="translate(515.70 118.80) scale(1 1.08)">Mobility</text>
<text x="0" y="0" font-size="11.5" text-anchor="start" fill="#3d88c8" transform="translate(468.30 151.00) scale(1 1.08)">Linear I<tspan font-size="9" dy="2.5">D</tspan></text>
<line x1="492.90" y1="90.80" x2="544.70" y2="90.80" stroke="#2a2aa0" stroke-width="1.3"/>
<path d="M548.90,90.80 L541.90,88.50 L543.65,90.80 L541.90,93.10 Z" fill="#2a2aa0"/>
<line x1="503.20" y1="116.30" x2="481.06" y2="116.30" stroke="#ff0000" stroke-width="1.2"/>
<path d="M477.10,116.30 L483.70,114.30 L482.05,116.30 L483.70,118.30 Z" fill="#ff0000"/>
<line x1="518.70" y1="145.80" x2="562.00" y2="145.80" stroke="#3d88c8" stroke-width="1.4"/>
<path d="M565.90,145.80 L559.40,143.80 L561.02,145.80 L559.40,147.80 Z" fill="#3d88c8"/>
<path d="M421.00,355.30 C427.50,355.58 446.83,356.30 460.00,357.00 C473.17,357.70 488.33,358.67 500.00,359.50 C511.67,360.33 520.83,361.25 530.00,362.00 C539.17,362.75 548.38,364.17 555.00,364.00 C561.62,363.83 565.65,362.90 569.70,361.00 C573.75,359.10 576.55,355.60 579.30,352.60 C582.05,349.60 583.90,346.90 586.20,343.00 C588.50,339.10 590.80,334.50 593.10,329.20 C595.40,323.90 597.93,317.18 600.00,311.20 C602.07,305.22 603.67,299.50 605.50,293.30 C607.33,287.10 609.38,280.43 611.00,274.00 C612.62,267.57 613.82,261.13 615.20,254.70 C616.58,248.27 617.97,242.07 619.30,235.40 C620.63,228.73 622.55,218.15 623.20,214.70" fill="none" stroke="#4a9a2a" stroke-width="1.1" stroke-linejoin="round" stroke-dasharray="3 2.2"/>
<path d="M404.00,364.50 C407.23,364.82 417.30,366.50 423.40,366.40 C429.50,366.30 434.33,364.90 440.60,363.90 C446.87,362.90 454.93,361.63 461.00,360.40 C467.07,359.17 472.03,357.82 477.00,356.50 C481.97,355.18 487.28,353.68 490.80,352.50 C494.32,351.32 496.07,350.60 498.10,349.40 C500.13,348.20 501.22,347.78 503.00,345.30 C504.78,342.82 507.33,339.27 508.80,334.50 C510.27,329.73 510.82,321.78 511.80,316.70 C512.78,311.62 514.00,308.88 514.70,304.00 C515.40,299.12 515.12,293.73 516.00,287.40 C516.88,281.07 519.33,269.57 520.00,266.00" fill="none" stroke="#0a0a80" stroke-width="1.2" stroke-linejoin="round" stroke-dasharray="3 2"/>
<circle cx="404.00" cy="364.50" r="2.3" fill="#0a0a80"/>
<circle cx="404.86" cy="364.66" r="2.3" fill="#0a0a80"/>
<circle cx="405.71" cy="364.82" r="2.3" fill="#0a0a80"/>
<circle cx="406.57" cy="364.97" r="2.3" fill="#0a0a80"/>
<circle cx="407.43" cy="365.11" r="2.3" fill="#0a0a80"/>
<circle cx="408.28" cy="365.25" r="2.3" fill="#0a0a80"/>
<circle cx="409.14" cy="365.37" r="2.3" fill="#0a0a80"/>
<circle cx="409.99" cy="365.49" r="2.3" fill="#0a0a80"/>
<circle cx="410.85" cy="365.61" r="2.3" fill="#0a0a80"/>
<circle cx="411.71" cy="365.71" r="2.3" fill="#0a0a80"/>
<circle cx="412.56" cy="365.81" r="2.3" fill="#0a0a80"/>
<circle cx="413.42" cy="365.90" r="2.3" fill="#0a0a80"/>
<circle cx="414.28" cy="365.98" r="2.3" fill="#0a0a80"/>
<circle cx="415.13" cy="366.06" r="2.3" fill="#0a0a80"/>
<circle cx="415.99" cy="366.12" r="2.3" fill="#0a0a80"/>
<circle cx="416.85" cy="366.18" r="2.3" fill="#0a0a80"/>
<circle cx="417.70" cy="366.24" r="2.3" fill="#0a0a80"/>
<circle cx="418.56" cy="366.28" r="2.3" fill="#0a0a80"/>
<circle cx="419.42" cy="366.32" r="2.3" fill="#0a0a80"/>
<circle cx="420.27" cy="366.35" r="2.3" fill="#0a0a80"/>
<circle cx="421.13" cy="366.37" r="2.3" fill="#0a0a80"/>
<circle cx="421.98" cy="366.39" r="2.3" fill="#0a0a80"/>
<circle cx="422.84" cy="366.40" r="2.3" fill="#0a0a80"/>
<circle cx="423.70" cy="366.40" r="2.3" fill="#0a0a80"/>
<circle cx="424.55" cy="366.39" r="2.3" fill="#0a0a80"/>
<circle cx="425.41" cy="366.38" r="2.3" fill="#0a0a80"/>
<circle cx="426.27" cy="366.36" r="2.3" fill="#0a0a80"/>
<circle cx="427.12" cy="366.33" r="2.3" fill="#0a0a80"/>
<circle cx="427.98" cy="366.29" r="2.3" fill="#0a0a80"/>
<circle cx="428.84" cy="366.25" r="2.3" fill="#0a0a80"/>
<circle cx="429.69" cy="366.20" r="2.3" fill="#0a0a80"/>
<circle cx="430.55" cy="366.14" r="2.3" fill="#0a0a80"/>
<circle cx="431.41" cy="366.08" r="2.3" fill="#0a0a80"/>
<circle cx="432.26" cy="366.00" r="2.3" fill="#0a0a80"/>
<circle cx="433.12" cy="365.92" r="2.3" fill="#0a0a80"/>
<circle cx="433.97" cy="365.84" r="2.3" fill="#0a0a80"/>
<circle cx="434.83" cy="365.74" r="2.3" fill="#0a0a80"/>
<circle cx="435.69" cy="365.64" r="2.3" fill="#0a0a80"/>
<circle cx="436.54" cy="365.53" r="2.3" fill="#0a0a80"/>
<circle cx="437.40" cy="365.41" r="2.3" fill="#0a0a80"/>
<circle cx="440.60" cy="363.90" r="2.4" fill="#0a0a80"/>
<circle cx="444.70" cy="363.00" r="2.4" fill="#0a0a80"/>
<circle cx="450.50" cy="362.10" r="2.4" fill="#0a0a80"/>
<circle cx="455.20" cy="360.70" r="2.4" fill="#0a0a80"/>
<circle cx="461.30" cy="360.20" r="2.4" fill="#0a0a80"/>
<circle cx="463.10" cy="359.20" r="2.4" fill="#0a0a80"/>
<circle cx="472.00" cy="358.00" r="2.4" fill="#0a0a80"/>
<circle cx="477.10" cy="356.40" r="2.4" fill="#0a0a80"/>
<circle cx="484.60" cy="354.90" r="2.4" fill="#0a0a80"/>
<circle cx="490.80" cy="352.50" r="2.4" fill="#0a0a80"/>
<circle cx="498.10" cy="349.40" r="2.4" fill="#0a0a80"/>
<circle cx="503.00" cy="345.50" r="2.4" fill="#0a0a80"/>
<circle cx="504.30" cy="341.00" r="2.4" fill="#0a0a80"/>
<circle cx="508.80" cy="334.60" r="2.4" fill="#0a0a80"/>
<circle cx="510.30" cy="326.70" r="2.4" fill="#0a0a80"/>
<circle cx="511.80" cy="316.70" r="2.4" fill="#0a0a80"/>
<circle cx="514.70" cy="304.00" r="2.4" fill="#0a0a80"/>
<circle cx="515.30" cy="287.40" r="2.4" fill="#0a0a80"/>
<circle cx="519.70" cy="266.90" r="2.4" fill="#0a0a80"/>
<circle cx="438.00" cy="353.70" r="2.3" fill="#118811"/>
<circle cx="459.00" cy="355.10" r="2.3" fill="#118811"/>
<circle cx="476.50" cy="355.90" r="2.3" fill="#118811"/>
<circle cx="490.70" cy="358.00" r="2.3" fill="#118811"/>
<circle cx="502.40" cy="358.90" r="2.3" fill="#118811"/>
<circle cx="511.80" cy="360.20" r="2.3" fill="#118811"/>
<circle cx="519.80" cy="361.20" r="2.3" fill="#118811"/>
<circle cx="525.70" cy="362.10" r="2.3" fill="#118811"/>
<circle cx="531.20" cy="362.70" r="2.3" fill="#118811"/>
<circle cx="536.30" cy="363.30" r="2.3" fill="#118811"/>
<circle cx="538.40" cy="363.38" r="2.3" fill="#118811"/>
<circle cx="539.49" cy="363.57" r="2.3" fill="#118811"/>
<circle cx="540.59" cy="363.74" r="2.3" fill="#118811"/>
<circle cx="541.68" cy="363.91" r="2.3" fill="#118811"/>
<circle cx="542.77" cy="364.06" r="2.3" fill="#118811"/>
<circle cx="543.87" cy="364.20" r="2.3" fill="#118811"/>
<circle cx="544.96" cy="364.33" r="2.3" fill="#118811"/>
<circle cx="546.05" cy="364.45" r="2.3" fill="#118811"/>
<circle cx="547.14" cy="364.55" r="2.3" fill="#118811"/>
<circle cx="548.24" cy="364.65" r="2.3" fill="#118811"/>
<circle cx="549.33" cy="364.73" r="2.3" fill="#118811"/>
<circle cx="550.42" cy="364.81" r="2.3" fill="#118811"/>
<circle cx="551.52" cy="364.87" r="2.3" fill="#118811"/>
<circle cx="552.61" cy="364.92" r="2.3" fill="#118811"/>
<circle cx="553.70" cy="364.95" r="2.3" fill="#118811"/>
<circle cx="554.80" cy="364.98" r="2.3" fill="#118811"/>
<circle cx="555.89" cy="365.00" r="2.3" fill="#118811"/>
<circle cx="556.98" cy="365.00" r="2.3" fill="#118811"/>
<circle cx="558.08" cy="364.99" r="2.3" fill="#118811"/>
<circle cx="559.17" cy="364.97" r="2.3" fill="#118811"/>
<circle cx="560.26" cy="364.94" r="2.3" fill="#118811"/>
<circle cx="561.36" cy="364.90" r="2.3" fill="#118811"/>
<circle cx="562.45" cy="364.85" r="2.3" fill="#118811"/>
<circle cx="563.54" cy="364.78" r="2.3" fill="#118811"/>
<circle cx="564.63" cy="364.71" r="2.3" fill="#118811"/>
<circle cx="565.73" cy="364.62" r="2.3" fill="#118811"/>
<circle cx="566.82" cy="364.52" r="2.3" fill="#118811"/>
<circle cx="567.91" cy="364.41" r="2.3" fill="#118811"/>
<circle cx="569.01" cy="364.29" r="2.3" fill="#118811"/>
<circle cx="570.10" cy="364.16" r="2.3" fill="#118811"/>
<circle cx="573.50" cy="361.70" r="2.3" fill="#118811"/>
<circle cx="578.80" cy="359.00" r="2.3" fill="#118811"/>
<circle cx="582.00" cy="355.40" r="2.3" fill="#118811"/>
<circle cx="587.90" cy="344.60" r="2.3" fill="#118811"/>
<circle cx="590.90" cy="348.80" r="2.3" fill="#118811"/>
<circle cx="593.40" cy="353.20" r="2.3" fill="#118811"/>
<circle cx="593.90" cy="338.80" r="2.3" fill="#118811"/>
<circle cx="598.90" cy="332.00" r="2.3" fill="#118811"/>
<circle cx="598.40" cy="322.80" r="2.3" fill="#118811"/>
<circle cx="600.60" cy="311.00" r="2.3" fill="#118811"/>
<circle cx="606.10" cy="295.50" r="2.3" fill="#118811"/>
<circle cx="601.40" cy="277.80" r="2.3" fill="#118811"/>
<circle cx="611.60" cy="253.30" r="2.3" fill="#118811"/>
<circle cx="614.40" cy="223.50" r="2.3" fill="#118811"/>
<path d="M456,291.2 L460.8,305.4 L476,315.2" fill="none" stroke="#1a1a8a" stroke-width="1.1"/>
<path d="M478.2,316.6 L470.5,314.5 L473.5,312.5 Z" fill="#1a1a8a" stroke="#1a1a8a" stroke-width="0.8"/>
<path d="M566,296 L571,311 L586,320" fill="none" stroke="#2a8a2a" stroke-width="1.1"/>
<path d="M588,321.3 L580.5,318.5 L583.5,316.8 Z" fill="#2a8a2a" stroke="#2a8a2a" stroke-width="0.8"/>
</svg></body></html>
